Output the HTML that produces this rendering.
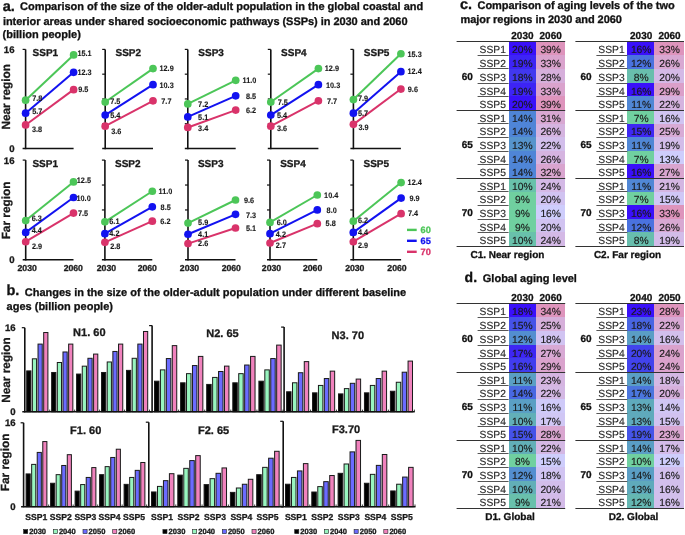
<!DOCTYPE html>
<html><head><meta charset="utf-8"><style>
html,body{margin:0;padding:0;background:#fff;}
svg{display:block;font-family:"Liberation Sans",sans-serif;filter:blur(0.35px);text-rendering:geometricPrecision;}
</style></head><body>
<svg width="685" height="535" viewBox="0 0 685 535">
<rect x="0" y="0" width="685" height="535" fill="#fff"/>
<text x="2.80" y="10.70" font-size="14.5" font-weight="bold" fill="#111" stroke="#111" stroke-width="0.3" text-anchor="start" >a.</text>
<text x="20.00" y="10.30" font-size="11" font-weight="bold" fill="#111" stroke="#111" stroke-width="0.3" text-anchor="start"  textLength="403.2" lengthAdjust="spacing">Comparison of the size of the older-adult population in the global coastal and</text>
<text x="2.90" y="25.00" font-size="11" font-weight="bold" fill="#111" stroke="#111" stroke-width="0.3" text-anchor="start"  textLength="404.6" lengthAdjust="spacing">interior areas under shared socioeconomic pathways (SSPs) in 2030 and 2060</text>
<text x="2.60" y="37.90" font-size="11" font-weight="bold" fill="#111" stroke="#111" stroke-width="0.3" text-anchor="start" >(billion people)</text>
<text x="6.50" y="295.40" font-size="14.5" font-weight="bold" fill="#111" stroke="#111" stroke-width="0.3" text-anchor="start" >b.</text>
<text x="24.80" y="295.60" font-size="11" font-weight="bold" fill="#111" stroke="#111" stroke-width="0.3" text-anchor="start"  textLength="381.4" lengthAdjust="spacing">Changes in the size of the older-adult population under different baseline</text>
<text x="6.60" y="310.00" font-size="11" font-weight="bold" fill="#111" stroke="#111" stroke-width="0.3" text-anchor="start" >ages (billion people)</text>
<text x="460.00" y="9.20" font-size="14.5" font-weight="bold" fill="#111" stroke="#111" stroke-width="0.3" text-anchor="start" >c.</text>
<text x="477.50" y="9.30" font-size="11" font-weight="bold" fill="#111" stroke="#111" stroke-width="0.3" text-anchor="start"  textLength="197.2" lengthAdjust="spacing">Comparison of aging levels of the two</text>
<text x="460.50" y="23.00" font-size="11" font-weight="bold" fill="#111" stroke="#111" stroke-width="0.3" text-anchor="start"  textLength="161.4" lengthAdjust="spacing">major regions in 2030 and 2060</text>
<text x="464.60" y="282.40" font-size="14" font-weight="bold" fill="#111" stroke="#111" stroke-width="0.3" text-anchor="start" >d.</text>
<text x="482.80" y="282.00" font-size="11" font-weight="bold" fill="#111" stroke="#111" stroke-width="0.3" text-anchor="start" >Global aging level</text>
<line x1="25.60" y1="49.40" x2="25.60" y2="149.20" stroke="#111" stroke-width="1.6" />
<line x1="22.60" y1="49.40" x2="25.60" y2="49.40" stroke="#111" stroke-width="1.2" />
<line x1="22.60" y1="148.50" x2="73.60" y2="148.50" stroke="#111" stroke-width="1.6" />
<text x="32.60" y="55.90" font-size="10" font-weight="bold" fill="#1a1a1a" stroke="#1a1a1a" stroke-width="0.3" text-anchor="start" >SSP1</text>
<line x1="25.60" y1="100.19" x2="73.60" y2="54.97" stroke="#4cc658" stroke-width="2.0" />
<line x1="25.60" y1="113.20" x2="73.60" y2="72.32" stroke="#1212f0" stroke-width="2.0" />
<line x1="25.60" y1="124.96" x2="73.60" y2="89.66" stroke="#d9336a" stroke-width="2.0" />
<circle cx="25.60" cy="100.19" r="3.85" fill="#4cc658"/>
<circle cx="73.60" cy="54.97" r="3.85" fill="#4cc658"/>
<circle cx="25.60" cy="113.20" r="3.85" fill="#1212f0"/>
<circle cx="73.60" cy="72.32" r="3.85" fill="#1212f0"/>
<circle cx="25.60" cy="124.96" r="3.85" fill="#d9336a"/>
<circle cx="73.60" cy="89.66" r="3.85" fill="#d9336a"/>
<text x="32.20" y="100.50" font-size="7.9" font-weight="bold" fill="#1a1a1a" stroke="#1a1a1a" stroke-width="0.12" text-anchor="start" textLength="10.15" lengthAdjust="spacingAndGlyphs">7.8</text>
<text x="32.20" y="113.90" font-size="7.9" font-weight="bold" fill="#1a1a1a" stroke="#1a1a1a" stroke-width="0.12" text-anchor="start" textLength="10.15" lengthAdjust="spacingAndGlyphs">5.7</text>
<text x="32.00" y="132.10" font-size="7.9" font-weight="bold" fill="#1a1a1a" stroke="#1a1a1a" stroke-width="0.12" text-anchor="start" textLength="10.15" lengthAdjust="spacingAndGlyphs">3.8</text>
<text x="77.40" y="55.90" font-size="7.9" font-weight="bold" fill="#1a1a1a" stroke="#1a1a1a" stroke-width="0.12" text-anchor="start" textLength="14.21" lengthAdjust="spacingAndGlyphs">15.1</text>
<text x="77.40" y="75.00" font-size="7.9" font-weight="bold" fill="#1a1a1a" stroke="#1a1a1a" stroke-width="0.12" text-anchor="start" textLength="14.21" lengthAdjust="spacingAndGlyphs">12.3</text>
<text x="78.20" y="92.30" font-size="7.9" font-weight="bold" fill="#1a1a1a" stroke="#1a1a1a" stroke-width="0.12" text-anchor="start" textLength="10.15" lengthAdjust="spacingAndGlyphs">9.5</text>
<line x1="105.20" y1="49.40" x2="105.20" y2="149.20" stroke="#111" stroke-width="1.6" />
<line x1="102.20" y1="49.40" x2="105.20" y2="49.40" stroke="#111" stroke-width="1.2" />
<line x1="102.20" y1="74.18" x2="105.20" y2="74.18" stroke="#111" stroke-width="1.2" />
<line x1="102.20" y1="98.95" x2="105.20" y2="98.95" stroke="#111" stroke-width="1.2" />
<line x1="102.20" y1="123.72" x2="105.20" y2="123.72" stroke="#111" stroke-width="1.2" />
<line x1="102.20" y1="148.50" x2="153.00" y2="148.50" stroke="#111" stroke-width="1.6" />
<text x="115.50" y="55.90" font-size="10" font-weight="bold" fill="#1a1a1a" stroke="#1a1a1a" stroke-width="0.3" text-anchor="start" >SSP2</text>
<line x1="105.20" y1="102.05" x2="153.00" y2="68.60" stroke="#4cc658" stroke-width="2.0" />
<line x1="105.20" y1="115.05" x2="153.00" y2="84.70" stroke="#1212f0" stroke-width="2.0" />
<line x1="105.20" y1="126.20" x2="153.00" y2="100.81" stroke="#d9336a" stroke-width="2.0" />
<circle cx="105.20" cy="102.05" r="3.85" fill="#4cc658"/>
<circle cx="153.00" cy="68.60" r="3.85" fill="#4cc658"/>
<circle cx="105.20" cy="115.05" r="3.85" fill="#1212f0"/>
<circle cx="153.00" cy="84.70" r="3.85" fill="#1212f0"/>
<circle cx="105.20" cy="126.20" r="3.85" fill="#d9336a"/>
<circle cx="153.00" cy="100.81" r="3.85" fill="#d9336a"/>
<text x="110.20" y="103.70" font-size="7.9" font-weight="bold" fill="#1a1a1a" stroke="#1a1a1a" stroke-width="0.12" text-anchor="start" textLength="10.15" lengthAdjust="spacingAndGlyphs">7.5</text>
<text x="110.20" y="117.60" font-size="7.9" font-weight="bold" fill="#1a1a1a" stroke="#1a1a1a" stroke-width="0.12" text-anchor="start" textLength="10.15" lengthAdjust="spacingAndGlyphs">5.4</text>
<text x="111.20" y="133.60" font-size="7.9" font-weight="bold" fill="#1a1a1a" stroke="#1a1a1a" stroke-width="0.12" text-anchor="start" textLength="10.15" lengthAdjust="spacingAndGlyphs">3.6</text>
<text x="159.50" y="71.20" font-size="7.9" font-weight="bold" fill="#1a1a1a" stroke="#1a1a1a" stroke-width="0.12" text-anchor="start" textLength="14.21" lengthAdjust="spacingAndGlyphs">12.9</text>
<text x="159.50" y="87.70" font-size="7.9" font-weight="bold" fill="#1a1a1a" stroke="#1a1a1a" stroke-width="0.12" text-anchor="start" textLength="14.21" lengthAdjust="spacingAndGlyphs">10.3</text>
<text x="161.30" y="103.80" font-size="7.9" font-weight="bold" fill="#1a1a1a" stroke="#1a1a1a" stroke-width="0.12" text-anchor="start" textLength="10.15" lengthAdjust="spacingAndGlyphs">7.7</text>
<line x1="187.80" y1="49.40" x2="187.80" y2="149.20" stroke="#111" stroke-width="1.6" />
<line x1="184.80" y1="49.40" x2="187.80" y2="49.40" stroke="#111" stroke-width="1.2" />
<line x1="184.80" y1="74.18" x2="187.80" y2="74.18" stroke="#111" stroke-width="1.2" />
<line x1="184.80" y1="98.95" x2="187.80" y2="98.95" stroke="#111" stroke-width="1.2" />
<line x1="184.80" y1="123.72" x2="187.80" y2="123.72" stroke="#111" stroke-width="1.2" />
<line x1="184.80" y1="148.50" x2="235.70" y2="148.50" stroke="#111" stroke-width="1.6" />
<text x="198.30" y="55.90" font-size="10" font-weight="bold" fill="#1a1a1a" stroke="#1a1a1a" stroke-width="0.3" text-anchor="start" >SSP3</text>
<line x1="187.80" y1="103.91" x2="235.70" y2="80.37" stroke="#4cc658" stroke-width="2.0" />
<line x1="187.80" y1="116.91" x2="235.70" y2="95.85" stroke="#1212f0" stroke-width="2.0" />
<line x1="187.80" y1="127.44" x2="235.70" y2="110.10" stroke="#d9336a" stroke-width="2.0" />
<circle cx="187.80" cy="103.91" r="3.85" fill="#4cc658"/>
<circle cx="235.70" cy="80.37" r="3.85" fill="#4cc658"/>
<circle cx="187.80" cy="116.91" r="3.85" fill="#1212f0"/>
<circle cx="235.70" cy="95.85" r="3.85" fill="#1212f0"/>
<circle cx="187.80" cy="127.44" r="3.85" fill="#d9336a"/>
<circle cx="235.70" cy="110.10" r="3.85" fill="#d9336a"/>
<text x="198.10" y="107.10" font-size="7.9" font-weight="bold" fill="#1a1a1a" stroke="#1a1a1a" stroke-width="0.12" text-anchor="start" textLength="10.15" lengthAdjust="spacingAndGlyphs">7.2</text>
<text x="198.10" y="119.80" font-size="7.9" font-weight="bold" fill="#1a1a1a" stroke="#1a1a1a" stroke-width="0.12" text-anchor="start" textLength="10.15" lengthAdjust="spacingAndGlyphs">5.1</text>
<text x="198.10" y="130.60" font-size="7.9" font-weight="bold" fill="#1a1a1a" stroke="#1a1a1a" stroke-width="0.12" text-anchor="start" textLength="10.15" lengthAdjust="spacingAndGlyphs">3.4</text>
<text x="242.60" y="83.20" font-size="7.9" font-weight="bold" fill="#1a1a1a" stroke="#1a1a1a" stroke-width="0.12" text-anchor="start" textLength="13.80" lengthAdjust="spacingAndGlyphs">11.0</text>
<text x="246.00" y="98.60" font-size="7.9" font-weight="bold" fill="#1a1a1a" stroke="#1a1a1a" stroke-width="0.12" text-anchor="start" textLength="10.15" lengthAdjust="spacingAndGlyphs">8.5</text>
<text x="246.00" y="113.10" font-size="7.9" font-weight="bold" fill="#1a1a1a" stroke="#1a1a1a" stroke-width="0.12" text-anchor="start" textLength="10.15" lengthAdjust="spacingAndGlyphs">6.2</text>
<line x1="270.80" y1="49.40" x2="270.80" y2="149.20" stroke="#111" stroke-width="1.6" />
<line x1="267.80" y1="49.40" x2="270.80" y2="49.40" stroke="#111" stroke-width="1.2" />
<line x1="267.80" y1="74.18" x2="270.80" y2="74.18" stroke="#111" stroke-width="1.2" />
<line x1="267.80" y1="98.95" x2="270.80" y2="98.95" stroke="#111" stroke-width="1.2" />
<line x1="267.80" y1="123.72" x2="270.80" y2="123.72" stroke="#111" stroke-width="1.2" />
<line x1="267.80" y1="148.50" x2="318.40" y2="148.50" stroke="#111" stroke-width="1.6" />
<text x="281.10" y="55.90" font-size="10" font-weight="bold" fill="#1a1a1a" stroke="#1a1a1a" stroke-width="0.3" text-anchor="start" >SSP4</text>
<line x1="270.80" y1="102.05" x2="318.40" y2="68.60" stroke="#4cc658" stroke-width="2.0" />
<line x1="270.80" y1="115.05" x2="318.40" y2="84.70" stroke="#1212f0" stroke-width="2.0" />
<line x1="270.80" y1="126.20" x2="318.40" y2="100.81" stroke="#d9336a" stroke-width="2.0" />
<circle cx="270.80" cy="102.05" r="3.85" fill="#4cc658"/>
<circle cx="318.40" cy="68.60" r="3.85" fill="#4cc658"/>
<circle cx="270.80" cy="115.05" r="3.85" fill="#1212f0"/>
<circle cx="318.40" cy="84.70" r="3.85" fill="#1212f0"/>
<circle cx="270.80" cy="126.20" r="3.85" fill="#d9336a"/>
<circle cx="318.40" cy="100.81" r="3.85" fill="#d9336a"/>
<text x="277.70" y="104.60" font-size="7.9" font-weight="bold" fill="#1a1a1a" stroke="#1a1a1a" stroke-width="0.12" text-anchor="start" textLength="10.15" lengthAdjust="spacingAndGlyphs">7.5</text>
<text x="277.00" y="117.60" font-size="7.9" font-weight="bold" fill="#1a1a1a" stroke="#1a1a1a" stroke-width="0.12" text-anchor="start" textLength="10.15" lengthAdjust="spacingAndGlyphs">5.4</text>
<text x="277.00" y="131.00" font-size="7.9" font-weight="bold" fill="#1a1a1a" stroke="#1a1a1a" stroke-width="0.12" text-anchor="start" textLength="10.15" lengthAdjust="spacingAndGlyphs">3.6</text>
<text x="324.80" y="71.20" font-size="7.9" font-weight="bold" fill="#1a1a1a" stroke="#1a1a1a" stroke-width="0.12" text-anchor="start" textLength="14.21" lengthAdjust="spacingAndGlyphs">12.9</text>
<text x="326.00" y="87.70" font-size="7.9" font-weight="bold" fill="#1a1a1a" stroke="#1a1a1a" stroke-width="0.12" text-anchor="start" textLength="14.21" lengthAdjust="spacingAndGlyphs">10.3</text>
<text x="327.00" y="103.70" font-size="7.9" font-weight="bold" fill="#1a1a1a" stroke="#1a1a1a" stroke-width="0.12" text-anchor="start" textLength="10.15" lengthAdjust="spacingAndGlyphs">7.7</text>
<line x1="353.40" y1="49.40" x2="353.40" y2="149.20" stroke="#111" stroke-width="1.6" />
<line x1="350.40" y1="49.40" x2="353.40" y2="49.40" stroke="#111" stroke-width="1.2" />
<line x1="350.40" y1="74.18" x2="353.40" y2="74.18" stroke="#111" stroke-width="1.2" />
<line x1="350.40" y1="98.95" x2="353.40" y2="98.95" stroke="#111" stroke-width="1.2" />
<line x1="350.40" y1="123.72" x2="353.40" y2="123.72" stroke="#111" stroke-width="1.2" />
<line x1="350.40" y1="148.50" x2="400.90" y2="148.50" stroke="#111" stroke-width="1.6" />
<text x="363.80" y="55.90" font-size="10" font-weight="bold" fill="#1a1a1a" stroke="#1a1a1a" stroke-width="0.3" text-anchor="start" >SSP5</text>
<line x1="353.40" y1="99.57" x2="400.90" y2="53.74" stroke="#4cc658" stroke-width="2.0" />
<line x1="353.40" y1="113.20" x2="400.90" y2="71.70" stroke="#1212f0" stroke-width="2.0" />
<line x1="353.40" y1="124.34" x2="400.90" y2="89.04" stroke="#d9336a" stroke-width="2.0" />
<circle cx="353.40" cy="99.57" r="3.85" fill="#4cc658"/>
<circle cx="400.90" cy="53.74" r="3.85" fill="#4cc658"/>
<circle cx="353.40" cy="113.20" r="3.85" fill="#1212f0"/>
<circle cx="400.90" cy="71.70" r="3.85" fill="#1212f0"/>
<circle cx="353.40" cy="124.34" r="3.85" fill="#d9336a"/>
<circle cx="400.90" cy="89.04" r="3.85" fill="#d9336a"/>
<text x="357.90" y="101.30" font-size="7.9" font-weight="bold" fill="#1a1a1a" stroke="#1a1a1a" stroke-width="0.12" text-anchor="start" textLength="10.15" lengthAdjust="spacingAndGlyphs">7.9</text>
<text x="357.90" y="115.50" font-size="7.9" font-weight="bold" fill="#1a1a1a" stroke="#1a1a1a" stroke-width="0.12" text-anchor="start" textLength="10.15" lengthAdjust="spacingAndGlyphs">5.7</text>
<text x="358.40" y="130.30" font-size="7.9" font-weight="bold" fill="#1a1a1a" stroke="#1a1a1a" stroke-width="0.12" text-anchor="start" textLength="10.15" lengthAdjust="spacingAndGlyphs">3.9</text>
<text x="407.50" y="57.10" font-size="7.9" font-weight="bold" fill="#1a1a1a" stroke="#1a1a1a" stroke-width="0.12" text-anchor="start" textLength="14.21" lengthAdjust="spacingAndGlyphs">15.3</text>
<text x="407.50" y="74.40" font-size="7.9" font-weight="bold" fill="#1a1a1a" stroke="#1a1a1a" stroke-width="0.12" text-anchor="start" textLength="14.21" lengthAdjust="spacingAndGlyphs">12.4</text>
<text x="407.80" y="91.70" font-size="7.9" font-weight="bold" fill="#1a1a1a" stroke="#1a1a1a" stroke-width="0.12" text-anchor="start" textLength="10.15" lengthAdjust="spacingAndGlyphs">9.6</text>
<text x="14.50" y="52.80" font-size="9.6" font-weight="bold" fill="#1a1a1a" stroke="#1a1a1a" stroke-width="0.3" text-anchor="end" >16</text>
<text x="14.50" y="151.90" font-size="9.6" font-weight="bold" fill="#1a1a1a" stroke="#1a1a1a" stroke-width="0.3" text-anchor="end" >0</text>
<line x1="25.70" y1="160.10" x2="25.70" y2="260.50" stroke="#111" stroke-width="1.6" />
<line x1="22.70" y1="160.10" x2="25.70" y2="160.10" stroke="#111" stroke-width="1.2" />
<line x1="22.70" y1="259.80" x2="73.50" y2="259.80" stroke="#111" stroke-width="1.6" />
<text x="32.40" y="166.70" font-size="10" font-weight="bold" fill="#1a1a1a" stroke="#1a1a1a" stroke-width="0.3" text-anchor="start" >SSP1</text>
<line x1="25.70" y1="220.54" x2="73.50" y2="181.91" stroke="#4cc658" stroke-width="2.0" />
<line x1="25.70" y1="232.38" x2="73.50" y2="197.49" stroke="#1212f0" stroke-width="2.0" />
<line x1="25.70" y1="241.73" x2="73.50" y2="213.07" stroke="#d9336a" stroke-width="2.0" />
<circle cx="25.70" cy="220.54" r="3.85" fill="#4cc658"/>
<circle cx="73.50" cy="181.91" r="3.85" fill="#4cc658"/>
<circle cx="25.70" cy="232.38" r="3.85" fill="#1212f0"/>
<circle cx="73.50" cy="197.49" r="3.85" fill="#1212f0"/>
<circle cx="25.70" cy="241.73" r="3.85" fill="#d9336a"/>
<circle cx="73.50" cy="213.07" r="3.85" fill="#d9336a"/>
<text x="31.70" y="221.10" font-size="7.9" font-weight="bold" fill="#1a1a1a" stroke="#1a1a1a" stroke-width="0.12" text-anchor="start" textLength="10.15" lengthAdjust="spacingAndGlyphs">6.3</text>
<text x="31.70" y="232.50" font-size="7.9" font-weight="bold" fill="#1a1a1a" stroke="#1a1a1a" stroke-width="0.12" text-anchor="start" textLength="10.15" lengthAdjust="spacingAndGlyphs">4.4</text>
<text x="32.00" y="248.50" font-size="7.9" font-weight="bold" fill="#1a1a1a" stroke="#1a1a1a" stroke-width="0.12" text-anchor="start" textLength="10.15" lengthAdjust="spacingAndGlyphs">2.9</text>
<text x="76.80" y="182.70" font-size="7.9" font-weight="bold" fill="#1a1a1a" stroke="#1a1a1a" stroke-width="0.12" text-anchor="start" textLength="14.21" lengthAdjust="spacingAndGlyphs">12.5</text>
<text x="76.50" y="200.70" font-size="7.9" font-weight="bold" fill="#1a1a1a" stroke="#1a1a1a" stroke-width="0.12" text-anchor="start" textLength="14.21" lengthAdjust="spacingAndGlyphs">10.0</text>
<text x="78.00" y="215.60" font-size="7.9" font-weight="bold" fill="#1a1a1a" stroke="#1a1a1a" stroke-width="0.12" text-anchor="start" textLength="10.15" lengthAdjust="spacingAndGlyphs">7.5</text>
<text x="27.20" y="271.00" font-size="8.7" font-weight="bold" fill="#1a1a1a" stroke="#1a1a1a" stroke-width="0.3" text-anchor="middle" >2030</text>
<line x1="104.90" y1="160.10" x2="104.90" y2="260.50" stroke="#111" stroke-width="1.6" />
<line x1="101.90" y1="160.10" x2="104.90" y2="160.10" stroke="#111" stroke-width="1.2" />
<line x1="101.90" y1="185.03" x2="104.90" y2="185.03" stroke="#111" stroke-width="1.2" />
<line x1="101.90" y1="209.95" x2="104.90" y2="209.95" stroke="#111" stroke-width="1.2" />
<line x1="101.90" y1="234.88" x2="104.90" y2="234.88" stroke="#111" stroke-width="1.2" />
<line x1="101.90" y1="259.80" x2="152.30" y2="259.80" stroke="#111" stroke-width="1.6" />
<text x="115.00" y="166.70" font-size="10" font-weight="bold" fill="#1a1a1a" stroke="#1a1a1a" stroke-width="0.3" text-anchor="start" >SSP2</text>
<line x1="104.90" y1="221.79" x2="152.30" y2="191.26" stroke="#4cc658" stroke-width="2.0" />
<line x1="104.90" y1="233.63" x2="152.30" y2="206.83" stroke="#1212f0" stroke-width="2.0" />
<line x1="104.90" y1="242.35" x2="152.30" y2="221.17" stroke="#d9336a" stroke-width="2.0" />
<circle cx="104.90" cy="221.79" r="3.85" fill="#4cc658"/>
<circle cx="152.30" cy="191.26" r="3.85" fill="#4cc658"/>
<circle cx="104.90" cy="233.63" r="3.85" fill="#1212f0"/>
<circle cx="152.30" cy="206.83" r="3.85" fill="#1212f0"/>
<circle cx="104.90" cy="242.35" r="3.85" fill="#d9336a"/>
<circle cx="152.30" cy="221.17" r="3.85" fill="#d9336a"/>
<text x="109.30" y="223.80" font-size="7.9" font-weight="bold" fill="#1a1a1a" stroke="#1a1a1a" stroke-width="0.12" text-anchor="start" textLength="10.15" lengthAdjust="spacingAndGlyphs">6.1</text>
<text x="109.30" y="235.80" font-size="7.9" font-weight="bold" fill="#1a1a1a" stroke="#1a1a1a" stroke-width="0.12" text-anchor="start" textLength="10.15" lengthAdjust="spacingAndGlyphs">4.2</text>
<text x="110.20" y="249.30" font-size="7.9" font-weight="bold" fill="#1a1a1a" stroke="#1a1a1a" stroke-width="0.12" text-anchor="start" textLength="10.15" lengthAdjust="spacingAndGlyphs">2.8</text>
<text x="158.60" y="194.40" font-size="7.9" font-weight="bold" fill="#1a1a1a" stroke="#1a1a1a" stroke-width="0.12" text-anchor="start" textLength="13.80" lengthAdjust="spacingAndGlyphs">11.0</text>
<text x="160.60" y="209.60" font-size="7.9" font-weight="bold" fill="#1a1a1a" stroke="#1a1a1a" stroke-width="0.12" text-anchor="start" textLength="10.15" lengthAdjust="spacingAndGlyphs">8.5</text>
<text x="160.30" y="224.10" font-size="7.9" font-weight="bold" fill="#1a1a1a" stroke="#1a1a1a" stroke-width="0.12" text-anchor="start" textLength="10.15" lengthAdjust="spacingAndGlyphs">6.2</text>
<text x="106.40" y="271.00" font-size="8.7" font-weight="bold" fill="#1a1a1a" stroke="#1a1a1a" stroke-width="0.3" text-anchor="middle" >2030</text>
<line x1="188.00" y1="160.10" x2="188.00" y2="260.50" stroke="#111" stroke-width="1.6" />
<line x1="185.00" y1="160.10" x2="188.00" y2="160.10" stroke="#111" stroke-width="1.2" />
<line x1="185.00" y1="185.03" x2="188.00" y2="185.03" stroke="#111" stroke-width="1.2" />
<line x1="185.00" y1="209.95" x2="188.00" y2="209.95" stroke="#111" stroke-width="1.2" />
<line x1="185.00" y1="234.88" x2="188.00" y2="234.88" stroke="#111" stroke-width="1.2" />
<line x1="185.00" y1="259.80" x2="235.50" y2="259.80" stroke="#111" stroke-width="1.6" />
<text x="197.90" y="166.70" font-size="10" font-weight="bold" fill="#1a1a1a" stroke="#1a1a1a" stroke-width="0.3" text-anchor="start" >SSP3</text>
<line x1="188.00" y1="223.04" x2="235.50" y2="199.98" stroke="#4cc658" stroke-width="2.0" />
<line x1="188.00" y1="234.25" x2="235.50" y2="214.31" stroke="#1212f0" stroke-width="2.0" />
<line x1="188.00" y1="243.60" x2="235.50" y2="228.02" stroke="#d9336a" stroke-width="2.0" />
<circle cx="188.00" cy="223.04" r="3.85" fill="#4cc658"/>
<circle cx="235.50" cy="199.98" r="3.85" fill="#4cc658"/>
<circle cx="188.00" cy="234.25" r="3.85" fill="#1212f0"/>
<circle cx="235.50" cy="214.31" r="3.85" fill="#1212f0"/>
<circle cx="188.00" cy="243.60" r="3.85" fill="#d9336a"/>
<circle cx="235.50" cy="228.02" r="3.85" fill="#d9336a"/>
<text x="198.10" y="225.30" font-size="7.9" font-weight="bold" fill="#1a1a1a" stroke="#1a1a1a" stroke-width="0.12" text-anchor="start" textLength="10.15" lengthAdjust="spacingAndGlyphs">5.9</text>
<text x="198.10" y="236.50" font-size="7.9" font-weight="bold" fill="#1a1a1a" stroke="#1a1a1a" stroke-width="0.12" text-anchor="start" textLength="10.15" lengthAdjust="spacingAndGlyphs">4.1</text>
<text x="198.10" y="246.00" font-size="7.9" font-weight="bold" fill="#1a1a1a" stroke="#1a1a1a" stroke-width="0.12" text-anchor="start" textLength="10.15" lengthAdjust="spacingAndGlyphs">2.6</text>
<text x="244.00" y="202.90" font-size="7.9" font-weight="bold" fill="#1a1a1a" stroke="#1a1a1a" stroke-width="0.12" text-anchor="start" textLength="10.15" lengthAdjust="spacingAndGlyphs">9.6</text>
<text x="246.00" y="217.60" font-size="7.9" font-weight="bold" fill="#1a1a1a" stroke="#1a1a1a" stroke-width="0.12" text-anchor="start" textLength="10.15" lengthAdjust="spacingAndGlyphs">7.3</text>
<text x="246.00" y="231.00" font-size="7.9" font-weight="bold" fill="#1a1a1a" stroke="#1a1a1a" stroke-width="0.12" text-anchor="start" textLength="10.15" lengthAdjust="spacingAndGlyphs">5.1</text>
<text x="189.50" y="271.00" font-size="8.7" font-weight="bold" fill="#1a1a1a" stroke="#1a1a1a" stroke-width="0.3" text-anchor="middle" >2030</text>
<line x1="270.00" y1="160.10" x2="270.00" y2="260.50" stroke="#111" stroke-width="1.6" />
<line x1="267.00" y1="160.10" x2="270.00" y2="160.10" stroke="#111" stroke-width="1.2" />
<line x1="267.00" y1="185.03" x2="270.00" y2="185.03" stroke="#111" stroke-width="1.2" />
<line x1="267.00" y1="209.95" x2="270.00" y2="209.95" stroke="#111" stroke-width="1.2" />
<line x1="267.00" y1="234.88" x2="270.00" y2="234.88" stroke="#111" stroke-width="1.2" />
<line x1="267.00" y1="259.80" x2="317.30" y2="259.80" stroke="#111" stroke-width="1.6" />
<text x="280.20" y="166.70" font-size="10" font-weight="bold" fill="#1a1a1a" stroke="#1a1a1a" stroke-width="0.3" text-anchor="start" >SSP4</text>
<line x1="270.00" y1="222.41" x2="317.30" y2="195.00" stroke="#4cc658" stroke-width="2.0" />
<line x1="270.00" y1="233.63" x2="317.30" y2="209.95" stroke="#1212f0" stroke-width="2.0" />
<line x1="270.00" y1="242.98" x2="317.30" y2="223.66" stroke="#d9336a" stroke-width="2.0" />
<circle cx="270.00" cy="222.41" r="3.85" fill="#4cc658"/>
<circle cx="317.30" cy="195.00" r="3.85" fill="#4cc658"/>
<circle cx="270.00" cy="233.63" r="3.85" fill="#1212f0"/>
<circle cx="317.30" cy="209.95" r="3.85" fill="#1212f0"/>
<circle cx="270.00" cy="242.98" r="3.85" fill="#d9336a"/>
<circle cx="317.30" cy="223.66" r="3.85" fill="#d9336a"/>
<text x="276.70" y="225.30" font-size="7.9" font-weight="bold" fill="#1a1a1a" stroke="#1a1a1a" stroke-width="0.12" text-anchor="start" textLength="10.15" lengthAdjust="spacingAndGlyphs">6.0</text>
<text x="275.80" y="236.50" font-size="7.9" font-weight="bold" fill="#1a1a1a" stroke="#1a1a1a" stroke-width="0.12" text-anchor="start" textLength="10.15" lengthAdjust="spacingAndGlyphs">4.2</text>
<text x="275.80" y="247.80" font-size="7.9" font-weight="bold" fill="#1a1a1a" stroke="#1a1a1a" stroke-width="0.12" text-anchor="start" textLength="10.15" lengthAdjust="spacingAndGlyphs">2.7</text>
<text x="324.10" y="198.10" font-size="7.9" font-weight="bold" fill="#1a1a1a" stroke="#1a1a1a" stroke-width="0.12" text-anchor="start" textLength="14.21" lengthAdjust="spacingAndGlyphs">10.4</text>
<text x="326.60" y="212.60" font-size="7.9" font-weight="bold" fill="#1a1a1a" stroke="#1a1a1a" stroke-width="0.12" text-anchor="start" textLength="10.15" lengthAdjust="spacingAndGlyphs">8.0</text>
<text x="325.60" y="226.10" font-size="7.9" font-weight="bold" fill="#1a1a1a" stroke="#1a1a1a" stroke-width="0.12" text-anchor="start" textLength="10.15" lengthAdjust="spacingAndGlyphs">5.8</text>
<text x="271.50" y="271.00" font-size="8.7" font-weight="bold" fill="#1a1a1a" stroke="#1a1a1a" stroke-width="0.3" text-anchor="middle" >2030</text>
<line x1="353.30" y1="160.10" x2="353.30" y2="260.50" stroke="#111" stroke-width="1.6" />
<line x1="350.30" y1="160.10" x2="353.30" y2="160.10" stroke="#111" stroke-width="1.2" />
<line x1="350.30" y1="185.03" x2="353.30" y2="185.03" stroke="#111" stroke-width="1.2" />
<line x1="350.30" y1="209.95" x2="353.30" y2="209.95" stroke="#111" stroke-width="1.2" />
<line x1="350.30" y1="234.88" x2="353.30" y2="234.88" stroke="#111" stroke-width="1.2" />
<line x1="350.30" y1="259.80" x2="401.10" y2="259.80" stroke="#111" stroke-width="1.6" />
<text x="363.50" y="166.70" font-size="10" font-weight="bold" fill="#1a1a1a" stroke="#1a1a1a" stroke-width="0.3" text-anchor="start" >SSP5</text>
<line x1="353.30" y1="221.17" x2="401.10" y2="182.53" stroke="#4cc658" stroke-width="2.0" />
<line x1="353.30" y1="232.38" x2="401.10" y2="198.11" stroke="#1212f0" stroke-width="2.0" />
<line x1="353.30" y1="241.73" x2="401.10" y2="213.69" stroke="#d9336a" stroke-width="2.0" />
<circle cx="353.30" cy="221.17" r="3.85" fill="#4cc658"/>
<circle cx="401.10" cy="182.53" r="3.85" fill="#4cc658"/>
<circle cx="353.30" cy="232.38" r="3.85" fill="#1212f0"/>
<circle cx="401.10" cy="198.11" r="3.85" fill="#1212f0"/>
<circle cx="353.30" cy="241.73" r="3.85" fill="#d9336a"/>
<circle cx="401.10" cy="213.69" r="3.85" fill="#d9336a"/>
<text x="357.90" y="222.60" font-size="7.9" font-weight="bold" fill="#1a1a1a" stroke="#1a1a1a" stroke-width="0.12" text-anchor="start" textLength="10.15" lengthAdjust="spacingAndGlyphs">6.2</text>
<text x="357.90" y="235.00" font-size="7.9" font-weight="bold" fill="#1a1a1a" stroke="#1a1a1a" stroke-width="0.12" text-anchor="start" textLength="10.15" lengthAdjust="spacingAndGlyphs">4.4</text>
<text x="357.90" y="247.50" font-size="7.9" font-weight="bold" fill="#1a1a1a" stroke="#1a1a1a" stroke-width="0.12" text-anchor="start" textLength="10.15" lengthAdjust="spacingAndGlyphs">2.9</text>
<text x="407.60" y="185.40" font-size="7.9" font-weight="bold" fill="#1a1a1a" stroke="#1a1a1a" stroke-width="0.12" text-anchor="start" textLength="14.21" lengthAdjust="spacingAndGlyphs">12.4</text>
<text x="409.50" y="201.40" font-size="7.9" font-weight="bold" fill="#1a1a1a" stroke="#1a1a1a" stroke-width="0.12" text-anchor="start" textLength="10.15" lengthAdjust="spacingAndGlyphs">9.9</text>
<text x="408.00" y="216.40" font-size="7.9" font-weight="bold" fill="#1a1a1a" stroke="#1a1a1a" stroke-width="0.12" text-anchor="start" textLength="10.15" lengthAdjust="spacingAndGlyphs">7.4</text>
<text x="354.80" y="271.00" font-size="8.7" font-weight="bold" fill="#1a1a1a" stroke="#1a1a1a" stroke-width="0.3" text-anchor="middle" >2030</text>
<text x="14.50" y="163.50" font-size="9.6" font-weight="bold" fill="#1a1a1a" stroke="#1a1a1a" stroke-width="0.3" text-anchor="end" >16</text>
<text x="14.50" y="263.20" font-size="9.6" font-weight="bold" fill="#1a1a1a" stroke="#1a1a1a" stroke-width="0.3" text-anchor="end" >0</text>
<text x="73.30" y="271.00" font-size="8.7" font-weight="bold" fill="#1a1a1a" stroke="#1a1a1a" stroke-width="0.3" text-anchor="middle" >2060</text>
<text x="147.30" y="271.00" font-size="8.7" font-weight="bold" fill="#1a1a1a" stroke="#1a1a1a" stroke-width="0.3" text-anchor="middle" >2060</text>
<text x="231.30" y="271.00" font-size="8.7" font-weight="bold" fill="#1a1a1a" stroke="#1a1a1a" stroke-width="0.3" text-anchor="middle" >2060</text>
<text x="312.60" y="271.00" font-size="8.7" font-weight="bold" fill="#1a1a1a" stroke="#1a1a1a" stroke-width="0.3" text-anchor="middle" >2060</text>
<text x="397.00" y="271.00" font-size="8.7" font-weight="bold" fill="#1a1a1a" stroke="#1a1a1a" stroke-width="0.3" text-anchor="middle" >2060</text>
<text x="9.70" y="96.80" font-size="11.8" font-weight="bold" fill="#1a1a1a" stroke="#1a1a1a" stroke-width="0.3" text-anchor="middle" transform="rotate(-90 9.7 96.8)">Near region</text>
<text x="9.70" y="210.50" font-size="11.8" font-weight="bold" fill="#1a1a1a" stroke="#1a1a1a" stroke-width="0.3" text-anchor="middle" transform="rotate(-90 9.7 210.5)">Far region</text>
<line x1="407.00" y1="229.90" x2="416.70" y2="229.90" stroke="#4cc658" stroke-width="2.4" />
<text x="420.60" y="233.30" font-size="9.2" font-weight="bold" fill="#4cc658" stroke="#4cc658" stroke-width="0.3" text-anchor="start" >60</text>
<line x1="407.00" y1="240.80" x2="416.70" y2="240.80" stroke="#1212f0" stroke-width="2.4" />
<text x="420.60" y="244.20" font-size="9.2" font-weight="bold" fill="#1212f0" stroke="#1212f0" stroke-width="0.3" text-anchor="start" >65</text>
<line x1="407.00" y1="251.80" x2="416.70" y2="251.80" stroke="#d9336a" stroke-width="2.4" />
<text x="420.60" y="255.20" font-size="9.2" font-weight="bold" fill="#d9336a" stroke="#d9336a" stroke-width="0.3" text-anchor="start" >70</text>
<rect x="26.70" y="370.90" width="4.21" height="40.90" fill="#000" stroke="#1a1a1a" stroke-width="1.0" />
<rect x="32.36" y="358.81" width="4.21" height="52.99" fill="#98f5bf" stroke="#1a1a1a" stroke-width="1.0" />
<rect x="38.03" y="344.09" width="4.21" height="67.71" fill="#6b6bff" stroke="#1a1a1a" stroke-width="1.0" />
<rect x="43.69" y="332.53" width="4.21" height="79.27" fill="#f082bd" stroke="#1a1a1a" stroke-width="1.0" />
<line x1="49.70" y1="409.60" x2="49.70" y2="411.80" stroke="#222" stroke-width="0.9" />
<rect x="51.65" y="372.48" width="4.21" height="39.32" fill="#000" stroke="#1a1a1a" stroke-width="1.0" />
<rect x="57.31" y="362.49" width="4.21" height="49.31" fill="#98f5bf" stroke="#1a1a1a" stroke-width="1.0" />
<rect x="62.98" y="351.98" width="4.21" height="59.82" fill="#6b6bff" stroke="#1a1a1a" stroke-width="1.0" />
<rect x="68.64" y="344.09" width="4.21" height="67.71" fill="#f082bd" stroke="#1a1a1a" stroke-width="1.0" />
<line x1="74.65" y1="409.60" x2="74.65" y2="411.80" stroke="#222" stroke-width="0.9" />
<rect x="76.60" y="374.06" width="4.21" height="37.75" fill="#000" stroke="#1a1a1a" stroke-width="1.0" />
<rect x="82.26" y="366.17" width="4.21" height="45.63" fill="#98f5bf" stroke="#1a1a1a" stroke-width="1.0" />
<rect x="87.93" y="358.29" width="4.21" height="53.51" fill="#6b6bff" stroke="#1a1a1a" stroke-width="1.0" />
<rect x="93.59" y="354.08" width="4.21" height="57.72" fill="#f082bd" stroke="#1a1a1a" stroke-width="1.0" />
<line x1="99.60" y1="409.60" x2="99.60" y2="411.80" stroke="#222" stroke-width="0.9" />
<rect x="101.55" y="372.48" width="4.21" height="39.32" fill="#000" stroke="#1a1a1a" stroke-width="1.0" />
<rect x="107.21" y="361.97" width="4.21" height="49.83" fill="#98f5bf" stroke="#1a1a1a" stroke-width="1.0" />
<rect x="112.88" y="351.45" width="4.21" height="60.35" fill="#6b6bff" stroke="#1a1a1a" stroke-width="1.0" />
<rect x="118.54" y="344.09" width="4.21" height="67.71" fill="#f082bd" stroke="#1a1a1a" stroke-width="1.0" />
<line x1="124.55" y1="409.60" x2="124.55" y2="411.80" stroke="#222" stroke-width="0.9" />
<rect x="126.50" y="370.38" width="4.21" height="41.42" fill="#000" stroke="#1a1a1a" stroke-width="1.0" />
<rect x="132.16" y="358.29" width="4.21" height="53.51" fill="#98f5bf" stroke="#1a1a1a" stroke-width="1.0" />
<rect x="137.83" y="344.09" width="4.21" height="67.71" fill="#6b6bff" stroke="#1a1a1a" stroke-width="1.0" />
<rect x="143.49" y="331.48" width="4.21" height="80.32" fill="#f082bd" stroke="#1a1a1a" stroke-width="1.0" />
<line x1="149.50" y1="409.60" x2="149.50" y2="411.80" stroke="#222" stroke-width="0.9" />
<line x1="24.80" y1="327.70" x2="24.80" y2="412.40" stroke="#111" stroke-width="1.6" />
<line x1="21.80" y1="327.70" x2="24.80" y2="327.70" stroke="#111" stroke-width="1.2" />
<line x1="22.30" y1="411.80" x2="151.60" y2="411.80" stroke="#111" stroke-width="1.5" />
<text x="73.10" y="336.40" font-size="11" font-weight="bold" fill="#1a1a1a" stroke="#1a1a1a" stroke-width="0.3" text-anchor="start" >N1. 60</text>
<rect x="154.50" y="381.19" width="4.47" height="30.61" fill="#000" stroke="#1a1a1a" stroke-width="1.0" />
<rect x="160.42" y="369.88" width="4.47" height="41.92" fill="#98f5bf" stroke="#1a1a1a" stroke-width="1.0" />
<rect x="166.35" y="358.56" width="4.47" height="53.24" fill="#6b6bff" stroke="#1a1a1a" stroke-width="1.0" />
<rect x="172.27" y="345.63" width="4.47" height="66.17" fill="#f082bd" stroke="#1a1a1a" stroke-width="1.0" />
<line x1="178.60" y1="409.60" x2="178.60" y2="411.80" stroke="#222" stroke-width="0.9" />
<rect x="180.60" y="382.81" width="4.47" height="28.99" fill="#000" stroke="#1a1a1a" stroke-width="1.0" />
<rect x="186.52" y="373.65" width="4.47" height="38.15" fill="#98f5bf" stroke="#1a1a1a" stroke-width="1.0" />
<rect x="192.45" y="365.57" width="4.47" height="46.23" fill="#6b6bff" stroke="#1a1a1a" stroke-width="1.0" />
<rect x="198.37" y="356.41" width="4.47" height="55.39" fill="#f082bd" stroke="#1a1a1a" stroke-width="1.0" />
<line x1="204.70" y1="409.60" x2="204.70" y2="411.80" stroke="#222" stroke-width="0.9" />
<rect x="206.70" y="384.42" width="4.47" height="27.38" fill="#000" stroke="#1a1a1a" stroke-width="1.0" />
<rect x="212.62" y="377.42" width="4.47" height="34.38" fill="#98f5bf" stroke="#1a1a1a" stroke-width="1.0" />
<rect x="218.55" y="371.49" width="4.47" height="40.31" fill="#6b6bff" stroke="#1a1a1a" stroke-width="1.0" />
<rect x="224.47" y="366.11" width="4.47" height="45.69" fill="#f082bd" stroke="#1a1a1a" stroke-width="1.0" />
<line x1="230.80" y1="409.60" x2="230.80" y2="411.80" stroke="#222" stroke-width="0.9" />
<rect x="232.80" y="382.81" width="4.47" height="28.99" fill="#000" stroke="#1a1a1a" stroke-width="1.0" />
<rect x="238.72" y="373.65" width="4.47" height="38.15" fill="#98f5bf" stroke="#1a1a1a" stroke-width="1.0" />
<rect x="244.65" y="365.03" width="4.47" height="46.77" fill="#6b6bff" stroke="#1a1a1a" stroke-width="1.0" />
<rect x="250.57" y="356.41" width="4.47" height="55.39" fill="#f082bd" stroke="#1a1a1a" stroke-width="1.0" />
<line x1="256.90" y1="409.60" x2="256.90" y2="411.80" stroke="#222" stroke-width="0.9" />
<rect x="258.90" y="381.19" width="4.47" height="30.61" fill="#000" stroke="#1a1a1a" stroke-width="1.0" />
<rect x="264.82" y="369.88" width="4.47" height="41.92" fill="#98f5bf" stroke="#1a1a1a" stroke-width="1.0" />
<rect x="270.75" y="358.56" width="4.47" height="53.24" fill="#6b6bff" stroke="#1a1a1a" stroke-width="1.0" />
<rect x="276.67" y="345.10" width="4.47" height="66.70" fill="#f082bd" stroke="#1a1a1a" stroke-width="1.0" />
<line x1="283.00" y1="409.60" x2="283.00" y2="411.80" stroke="#222" stroke-width="0.9" />
<line x1="152.10" y1="325.60" x2="152.10" y2="412.40" stroke="#111" stroke-width="1.6" />
<line x1="149.10" y1="325.60" x2="152.10" y2="325.60" stroke="#111" stroke-width="1.2" />
<line x1="149.60" y1="411.80" x2="283.20" y2="411.80" stroke="#111" stroke-width="1.5" />
<text x="206.30" y="336.60" font-size="11" font-weight="bold" fill="#1a1a1a" stroke="#1a1a1a" stroke-width="0.3" text-anchor="start" >N2. 65</text>
<rect x="286.60" y="391.78" width="4.44" height="20.02" fill="#000" stroke="#1a1a1a" stroke-width="1.0" />
<rect x="292.49" y="382.78" width="4.44" height="29.02" fill="#98f5bf" stroke="#1a1a1a" stroke-width="1.0" />
<rect x="298.38" y="372.73" width="4.44" height="39.07" fill="#6b6bff" stroke="#1a1a1a" stroke-width="1.0" />
<rect x="304.27" y="361.61" width="4.44" height="50.19" fill="#f082bd" stroke="#1a1a1a" stroke-width="1.0" />
<line x1="310.56" y1="409.60" x2="310.56" y2="411.80" stroke="#222" stroke-width="0.9" />
<rect x="312.55" y="392.84" width="4.44" height="18.96" fill="#000" stroke="#1a1a1a" stroke-width="1.0" />
<rect x="318.44" y="385.43" width="4.44" height="26.37" fill="#98f5bf" stroke="#1a1a1a" stroke-width="1.0" />
<rect x="324.33" y="378.55" width="4.44" height="33.25" fill="#6b6bff" stroke="#1a1a1a" stroke-width="1.0" />
<rect x="330.22" y="371.14" width="4.44" height="40.66" fill="#f082bd" stroke="#1a1a1a" stroke-width="1.0" />
<line x1="336.51" y1="409.60" x2="336.51" y2="411.80" stroke="#222" stroke-width="0.9" />
<rect x="338.50" y="393.90" width="4.44" height="17.90" fill="#000" stroke="#1a1a1a" stroke-width="1.0" />
<rect x="344.39" y="388.61" width="4.44" height="23.19" fill="#98f5bf" stroke="#1a1a1a" stroke-width="1.0" />
<rect x="350.28" y="383.31" width="4.44" height="28.49" fill="#6b6bff" stroke="#1a1a1a" stroke-width="1.0" />
<rect x="356.17" y="379.08" width="4.44" height="32.72" fill="#f082bd" stroke="#1a1a1a" stroke-width="1.0" />
<line x1="362.46" y1="409.60" x2="362.46" y2="411.80" stroke="#222" stroke-width="0.9" />
<rect x="364.45" y="392.84" width="4.44" height="18.96" fill="#000" stroke="#1a1a1a" stroke-width="1.0" />
<rect x="370.34" y="385.43" width="4.44" height="26.37" fill="#98f5bf" stroke="#1a1a1a" stroke-width="1.0" />
<rect x="376.23" y="378.55" width="4.44" height="33.25" fill="#6b6bff" stroke="#1a1a1a" stroke-width="1.0" />
<rect x="382.12" y="371.14" width="4.44" height="40.66" fill="#f082bd" stroke="#1a1a1a" stroke-width="1.0" />
<line x1="388.41" y1="409.60" x2="388.41" y2="411.80" stroke="#222" stroke-width="0.9" />
<rect x="390.40" y="391.25" width="4.44" height="20.55" fill="#000" stroke="#1a1a1a" stroke-width="1.0" />
<rect x="396.29" y="382.26" width="4.44" height="29.54" fill="#98f5bf" stroke="#1a1a1a" stroke-width="1.0" />
<rect x="402.18" y="372.20" width="4.44" height="39.60" fill="#6b6bff" stroke="#1a1a1a" stroke-width="1.0" />
<rect x="408.07" y="361.08" width="4.44" height="50.72" fill="#f082bd" stroke="#1a1a1a" stroke-width="1.0" />
<line x1="414.36" y1="409.60" x2="414.36" y2="411.80" stroke="#222" stroke-width="0.9" />
<line x1="284.10" y1="327.10" x2="284.10" y2="412.40" stroke="#111" stroke-width="1.6" />
<line x1="281.10" y1="327.10" x2="284.10" y2="327.10" stroke="#111" stroke-width="1.2" />
<line x1="281.60" y1="411.80" x2="414.70" y2="411.80" stroke="#111" stroke-width="1.5" />
<text x="331.60" y="338.50" font-size="11" font-weight="bold" fill="#1a1a1a" stroke="#1a1a1a" stroke-width="0.3" text-anchor="start" >N3. 70</text>
<rect x="26.10" y="473.92" width="4.11" height="32.78" fill="#000" stroke="#1a1a1a" stroke-width="1.0" />
<rect x="31.66" y="464.38" width="4.11" height="42.32" fill="#98f5bf" stroke="#1a1a1a" stroke-width="1.0" />
<rect x="37.22" y="452.42" width="4.11" height="54.28" fill="#6b6bff" stroke="#1a1a1a" stroke-width="1.0" />
<rect x="42.78" y="441.57" width="4.11" height="65.13" fill="#f082bd" stroke="#1a1a1a" stroke-width="1.0" />
<line x1="48.67" y1="504.50" x2="48.67" y2="506.70" stroke="#222" stroke-width="0.9" />
<rect x="50.60" y="483.26" width="4.11" height="23.44" fill="#000" stroke="#1a1a1a" stroke-width="1.0" />
<rect x="56.16" y="474.66" width="4.11" height="32.04" fill="#98f5bf" stroke="#1a1a1a" stroke-width="1.0" />
<rect x="61.72" y="465.48" width="4.11" height="41.22" fill="#6b6bff" stroke="#1a1a1a" stroke-width="1.0" />
<rect x="67.28" y="454.68" width="4.11" height="52.02" fill="#f082bd" stroke="#1a1a1a" stroke-width="1.0" />
<line x1="73.17" y1="504.50" x2="73.17" y2="506.70" stroke="#222" stroke-width="0.9" />
<rect x="75.10" y="491.12" width="4.11" height="15.58" fill="#000" stroke="#1a1a1a" stroke-width="1.0" />
<rect x="80.66" y="484.57" width="4.11" height="22.13" fill="#98f5bf" stroke="#1a1a1a" stroke-width="1.0" />
<rect x="86.22" y="477.44" width="4.11" height="29.26" fill="#6b6bff" stroke="#1a1a1a" stroke-width="1.0" />
<rect x="91.78" y="467.58" width="4.11" height="39.12" fill="#f082bd" stroke="#1a1a1a" stroke-width="1.0" />
<line x1="97.67" y1="504.50" x2="97.67" y2="506.70" stroke="#222" stroke-width="0.9" />
<rect x="99.60" y="474.66" width="4.11" height="32.04" fill="#000" stroke="#1a1a1a" stroke-width="1.0" />
<rect x="105.16" y="466.63" width="4.11" height="40.07" fill="#98f5bf" stroke="#1a1a1a" stroke-width="1.0" />
<rect x="110.72" y="457.46" width="4.11" height="49.24" fill="#6b6bff" stroke="#1a1a1a" stroke-width="1.0" />
<rect x="116.28" y="449.22" width="4.11" height="57.48" fill="#f082bd" stroke="#1a1a1a" stroke-width="1.0" />
<line x1="122.17" y1="504.50" x2="122.17" y2="506.70" stroke="#222" stroke-width="0.9" />
<rect x="124.10" y="484.36" width="4.11" height="22.34" fill="#000" stroke="#1a1a1a" stroke-width="1.0" />
<rect x="129.66" y="477.44" width="4.11" height="29.26" fill="#98f5bf" stroke="#1a1a1a" stroke-width="1.0" />
<rect x="135.22" y="470.36" width="4.11" height="36.34" fill="#6b6bff" stroke="#1a1a1a" stroke-width="1.0" />
<rect x="140.78" y="462.49" width="4.11" height="44.21" fill="#f082bd" stroke="#1a1a1a" stroke-width="1.0" />
<line x1="146.67" y1="504.50" x2="146.67" y2="506.70" stroke="#222" stroke-width="0.9" />
<line x1="23.60" y1="422.80" x2="23.60" y2="507.30" stroke="#111" stroke-width="1.6" />
<line x1="20.60" y1="422.80" x2="23.60" y2="422.80" stroke="#111" stroke-width="1.2" />
<line x1="21.10" y1="506.70" x2="148.80" y2="506.70" stroke="#111" stroke-width="1.5" />
<text x="70.10" y="433.80" font-size="11" font-weight="bold" fill="#1a1a1a" stroke="#1a1a1a" stroke-width="0.3" text-anchor="start" >F1. 60</text>
<rect x="151.50" y="491.96" width="4.52" height="14.74" fill="#000" stroke="#1a1a1a" stroke-width="1.0" />
<rect x="157.47" y="486.41" width="4.52" height="20.29" fill="#98f5bf" stroke="#1a1a1a" stroke-width="1.0" />
<rect x="163.44" y="480.66" width="4.52" height="26.04" fill="#6b6bff" stroke="#1a1a1a" stroke-width="1.0" />
<rect x="169.41" y="473.69" width="4.52" height="33.01" fill="#f082bd" stroke="#1a1a1a" stroke-width="1.0" />
<line x1="175.79" y1="504.50" x2="175.79" y2="506.70" stroke="#222" stroke-width="0.9" />
<rect x="177.80" y="475.11" width="4.52" height="31.59" fill="#000" stroke="#1a1a1a" stroke-width="1.0" />
<rect x="183.77" y="468.35" width="4.52" height="38.35" fill="#98f5bf" stroke="#1a1a1a" stroke-width="1.0" />
<rect x="189.74" y="460.59" width="4.52" height="46.11" fill="#6b6bff" stroke="#1a1a1a" stroke-width="1.0" />
<rect x="195.71" y="455.62" width="4.52" height="51.08" fill="#f082bd" stroke="#1a1a1a" stroke-width="1.0" />
<line x1="202.09" y1="504.50" x2="202.09" y2="506.70" stroke="#222" stroke-width="0.9" />
<rect x="204.10" y="484.62" width="4.52" height="22.08" fill="#000" stroke="#1a1a1a" stroke-width="1.0" />
<rect x="210.07" y="478.65" width="4.52" height="28.05" fill="#98f5bf" stroke="#1a1a1a" stroke-width="1.0" />
<rect x="216.04" y="473.32" width="4.52" height="33.38" fill="#6b6bff" stroke="#1a1a1a" stroke-width="1.0" />
<rect x="222.01" y="467.93" width="4.52" height="38.77" fill="#f082bd" stroke="#1a1a1a" stroke-width="1.0" />
<line x1="228.39" y1="504.50" x2="228.39" y2="506.70" stroke="#222" stroke-width="0.9" />
<rect x="230.40" y="492.38" width="4.52" height="14.32" fill="#000" stroke="#1a1a1a" stroke-width="1.0" />
<rect x="236.37" y="488.00" width="4.52" height="18.70" fill="#98f5bf" stroke="#1a1a1a" stroke-width="1.0" />
<rect x="242.34" y="484.25" width="4.52" height="22.45" fill="#6b6bff" stroke="#1a1a1a" stroke-width="1.0" />
<rect x="248.31" y="479.28" width="4.52" height="27.42" fill="#f082bd" stroke="#1a1a1a" stroke-width="1.0" />
<line x1="254.69" y1="504.50" x2="254.69" y2="506.70" stroke="#222" stroke-width="0.9" />
<rect x="256.70" y="474.69" width="4.52" height="32.01" fill="#000" stroke="#1a1a1a" stroke-width="1.0" />
<rect x="262.67" y="467.35" width="4.52" height="39.35" fill="#98f5bf" stroke="#1a1a1a" stroke-width="1.0" />
<rect x="268.64" y="458.21" width="4.52" height="48.49" fill="#6b6bff" stroke="#1a1a1a" stroke-width="1.0" />
<rect x="274.61" y="451.29" width="4.52" height="55.41" fill="#f082bd" stroke="#1a1a1a" stroke-width="1.0" />
<line x1="280.99" y1="504.50" x2="280.99" y2="506.70" stroke="#222" stroke-width="0.9" />
<line x1="148.80" y1="422.20" x2="148.80" y2="507.30" stroke="#111" stroke-width="1.6" />
<line x1="145.80" y1="422.20" x2="148.80" y2="422.20" stroke="#111" stroke-width="1.2" />
<line x1="146.30" y1="506.70" x2="283.20" y2="506.70" stroke="#111" stroke-width="1.5" />
<text x="198.00" y="433.50" font-size="11" font-weight="bold" fill="#1a1a1a" stroke="#1a1a1a" stroke-width="0.3" text-anchor="start" >F2. 65</text>
<rect x="285.50" y="484.22" width="4.52" height="22.48" fill="#000" stroke="#1a1a1a" stroke-width="1.0" />
<rect x="291.47" y="477.44" width="4.52" height="29.26" fill="#98f5bf" stroke="#1a1a1a" stroke-width="1.0" />
<rect x="297.44" y="470.93" width="4.52" height="35.77" fill="#6b6bff" stroke="#1a1a1a" stroke-width="1.0" />
<rect x="303.41" y="463.62" width="4.52" height="43.08" fill="#f082bd" stroke="#1a1a1a" stroke-width="1.0" />
<line x1="309.79" y1="504.50" x2="309.79" y2="506.70" stroke="#222" stroke-width="0.9" />
<rect x="311.80" y="492.02" width="4.52" height="14.68" fill="#000" stroke="#1a1a1a" stroke-width="1.0" />
<rect x="317.77" y="486.62" width="4.52" height="20.08" fill="#98f5bf" stroke="#1a1a1a" stroke-width="1.0" />
<rect x="323.74" y="481.66" width="4.52" height="25.04" fill="#6b6bff" stroke="#1a1a1a" stroke-width="1.0" />
<rect x="329.71" y="475.52" width="4.52" height="31.18" fill="#f082bd" stroke="#1a1a1a" stroke-width="1.0" />
<line x1="336.09" y1="504.50" x2="336.09" y2="506.70" stroke="#222" stroke-width="0.9" />
<rect x="338.10" y="473.33" width="4.52" height="33.37" fill="#000" stroke="#1a1a1a" stroke-width="1.0" />
<rect x="344.07" y="463.99" width="4.52" height="42.71" fill="#98f5bf" stroke="#1a1a1a" stroke-width="1.0" />
<rect x="350.04" y="451.88" width="4.52" height="54.82" fill="#6b6bff" stroke="#1a1a1a" stroke-width="1.0" />
<rect x="356.01" y="440.40" width="4.52" height="66.30" fill="#f082bd" stroke="#1a1a1a" stroke-width="1.0" />
<line x1="362.39" y1="504.50" x2="362.39" y2="506.70" stroke="#222" stroke-width="0.9" />
<rect x="364.40" y="483.26" width="4.52" height="23.44" fill="#000" stroke="#1a1a1a" stroke-width="1.0" />
<rect x="370.37" y="474.35" width="4.52" height="32.35" fill="#98f5bf" stroke="#1a1a1a" stroke-width="1.0" />
<rect x="376.34" y="465.38" width="4.52" height="41.32" fill="#6b6bff" stroke="#1a1a1a" stroke-width="1.0" />
<rect x="382.31" y="454.49" width="4.52" height="52.21" fill="#f082bd" stroke="#1a1a1a" stroke-width="1.0" />
<line x1="388.69" y1="504.50" x2="388.69" y2="506.70" stroke="#222" stroke-width="0.9" />
<rect x="390.70" y="490.95" width="4.52" height="15.75" fill="#000" stroke="#1a1a1a" stroke-width="1.0" />
<rect x="396.67" y="484.22" width="4.52" height="22.48" fill="#98f5bf" stroke="#1a1a1a" stroke-width="1.0" />
<rect x="402.64" y="477.07" width="4.52" height="29.63" fill="#6b6bff" stroke="#1a1a1a" stroke-width="1.0" />
<rect x="408.61" y="467.36" width="4.52" height="39.34" fill="#f082bd" stroke="#1a1a1a" stroke-width="1.0" />
<line x1="414.99" y1="504.50" x2="414.99" y2="506.70" stroke="#222" stroke-width="0.9" />
<line x1="283.20" y1="421.30" x2="283.20" y2="507.30" stroke="#111" stroke-width="1.6" />
<line x1="280.20" y1="421.30" x2="283.20" y2="421.30" stroke="#111" stroke-width="1.2" />
<line x1="280.70" y1="506.70" x2="415.50" y2="506.70" stroke="#111" stroke-width="1.5" />
<text x="332.00" y="433.10" font-size="11" font-weight="bold" fill="#1a1a1a" stroke="#1a1a1a" stroke-width="0.3" text-anchor="start" >F3.70</text>
<text x="15.60" y="331.10" font-size="9.6" font-weight="bold" fill="#1a1a1a" stroke="#1a1a1a" stroke-width="0.3" text-anchor="end" >16</text>
<text x="15.60" y="415.20" font-size="9.6" font-weight="bold" fill="#1a1a1a" stroke="#1a1a1a" stroke-width="0.3" text-anchor="end" >0</text>
<text x="15.60" y="426.20" font-size="9.6" font-weight="bold" fill="#1a1a1a" stroke="#1a1a1a" stroke-width="0.3" text-anchor="end" >16</text>
<text x="15.60" y="510.10" font-size="9.6" font-weight="bold" fill="#1a1a1a" stroke="#1a1a1a" stroke-width="0.3" text-anchor="end" >0</text>
<text x="9.50" y="370.00" font-size="11.8" font-weight="bold" fill="#1a1a1a" stroke="#1a1a1a" stroke-width="0.3" text-anchor="middle" transform="rotate(-90 9.5 370.0)">Near region</text>
<text x="9.50" y="462.40" font-size="11.8" font-weight="bold" fill="#1a1a1a" stroke="#1a1a1a" stroke-width="0.3" text-anchor="middle" transform="rotate(-90 9.5 462.4)">Far region</text>
<text x="25.30" y="519.60" font-size="8.6" font-weight="bold" fill="#1a1a1a" stroke="#1a1a1a" stroke-width="0.3" text-anchor="start" >SSP1</text>
<text x="49.80" y="519.60" font-size="8.6" font-weight="bold" fill="#1a1a1a" stroke="#1a1a1a" stroke-width="0.3" text-anchor="start" >SSP2</text>
<text x="74.40" y="519.60" font-size="8.6" font-weight="bold" fill="#1a1a1a" stroke="#1a1a1a" stroke-width="0.3" text-anchor="start" >SSP3</text>
<text x="98.50" y="519.60" font-size="8.6" font-weight="bold" fill="#1a1a1a" stroke="#1a1a1a" stroke-width="0.3" text-anchor="start" >SSP4</text>
<text x="123.00" y="519.60" font-size="8.6" font-weight="bold" fill="#1a1a1a" stroke="#1a1a1a" stroke-width="0.3" text-anchor="start" >SSP5</text>
<text x="151.00" y="519.60" font-size="8.6" font-weight="bold" fill="#1a1a1a" stroke="#1a1a1a" stroke-width="0.3" text-anchor="start" >SSP1</text>
<text x="177.60" y="519.60" font-size="8.6" font-weight="bold" fill="#1a1a1a" stroke="#1a1a1a" stroke-width="0.3" text-anchor="start" >SSP2</text>
<text x="204.00" y="519.60" font-size="8.6" font-weight="bold" fill="#1a1a1a" stroke="#1a1a1a" stroke-width="0.3" text-anchor="start" >SSP3</text>
<text x="230.40" y="519.60" font-size="8.6" font-weight="bold" fill="#1a1a1a" stroke="#1a1a1a" stroke-width="0.3" text-anchor="start" >SSP4</text>
<text x="256.60" y="519.60" font-size="8.6" font-weight="bold" fill="#1a1a1a" stroke="#1a1a1a" stroke-width="0.3" text-anchor="start" >SSP5</text>
<text x="284.90" y="519.60" font-size="8.6" font-weight="bold" fill="#1a1a1a" stroke="#1a1a1a" stroke-width="0.3" text-anchor="start" >SSP1</text>
<text x="311.30" y="519.60" font-size="8.6" font-weight="bold" fill="#1a1a1a" stroke="#1a1a1a" stroke-width="0.3" text-anchor="start" >SSP2</text>
<text x="337.70" y="519.60" font-size="8.6" font-weight="bold" fill="#1a1a1a" stroke="#1a1a1a" stroke-width="0.3" text-anchor="start" >SSP3</text>
<text x="364.40" y="519.60" font-size="8.6" font-weight="bold" fill="#1a1a1a" stroke="#1a1a1a" stroke-width="0.3" text-anchor="start" >SSP4</text>
<text x="390.80" y="519.60" font-size="8.6" font-weight="bold" fill="#1a1a1a" stroke="#1a1a1a" stroke-width="0.3" text-anchor="start" >SSP5</text>
<rect x="23.60" y="529.60" width="4.10" height="4.00" fill="#000" stroke="#222" stroke-width="0.6" />
<text x="29.20" y="533.90" font-size="7.6" font-weight="bold" fill="#1a1a1a" stroke="#1a1a1a" stroke-width="0.3" text-anchor="start" >2030</text>
<rect x="53.30" y="529.60" width="4.10" height="4.00" fill="#98f5bf" stroke="#222" stroke-width="0.6" />
<text x="58.90" y="533.90" font-size="7.6" font-weight="bold" fill="#1a1a1a" stroke="#1a1a1a" stroke-width="0.3" text-anchor="start" >2040</text>
<rect x="83.00" y="529.60" width="4.10" height="4.00" fill="#6b6bff" stroke="#222" stroke-width="0.6" />
<text x="88.60" y="533.90" font-size="7.6" font-weight="bold" fill="#1a1a1a" stroke="#1a1a1a" stroke-width="0.3" text-anchor="start" >2050</text>
<rect x="112.70" y="529.60" width="4.10" height="4.00" fill="#f082bd" stroke="#222" stroke-width="0.6" />
<text x="118.30" y="533.90" font-size="7.6" font-weight="bold" fill="#1a1a1a" stroke="#1a1a1a" stroke-width="0.3" text-anchor="start" >2060</text>
<rect x="162.90" y="529.60" width="4.10" height="4.00" fill="#000" stroke="#222" stroke-width="0.6" />
<text x="168.50" y="533.90" font-size="7.6" font-weight="bold" fill="#1a1a1a" stroke="#1a1a1a" stroke-width="0.3" text-anchor="start" >2030</text>
<rect x="192.60" y="529.60" width="4.10" height="4.00" fill="#98f5bf" stroke="#222" stroke-width="0.6" />
<text x="198.20" y="533.90" font-size="7.6" font-weight="bold" fill="#1a1a1a" stroke="#1a1a1a" stroke-width="0.3" text-anchor="start" >2040</text>
<rect x="222.30" y="529.60" width="4.10" height="4.00" fill="#6b6bff" stroke="#222" stroke-width="0.6" />
<text x="227.90" y="533.90" font-size="7.6" font-weight="bold" fill="#1a1a1a" stroke="#1a1a1a" stroke-width="0.3" text-anchor="start" >2050</text>
<rect x="252.00" y="529.60" width="4.10" height="4.00" fill="#f082bd" stroke="#222" stroke-width="0.6" />
<text x="257.60" y="533.90" font-size="7.6" font-weight="bold" fill="#1a1a1a" stroke="#1a1a1a" stroke-width="0.3" text-anchor="start" >2060</text>
<rect x="294.70" y="529.60" width="4.10" height="4.00" fill="#000" stroke="#222" stroke-width="0.6" />
<text x="300.30" y="533.90" font-size="7.6" font-weight="bold" fill="#1a1a1a" stroke="#1a1a1a" stroke-width="0.3" text-anchor="start" >2030</text>
<rect x="324.40" y="529.60" width="4.10" height="4.00" fill="#98f5bf" stroke="#222" stroke-width="0.6" />
<text x="330.00" y="533.90" font-size="7.6" font-weight="bold" fill="#1a1a1a" stroke="#1a1a1a" stroke-width="0.3" text-anchor="start" >2040</text>
<rect x="354.10" y="529.60" width="4.10" height="4.00" fill="#6b6bff" stroke="#222" stroke-width="0.6" />
<text x="359.70" y="533.90" font-size="7.6" font-weight="bold" fill="#1a1a1a" stroke="#1a1a1a" stroke-width="0.3" text-anchor="start" >2050</text>
<rect x="383.80" y="529.60" width="4.10" height="4.00" fill="#f082bd" stroke="#222" stroke-width="0.6" />
<text x="389.40" y="533.90" font-size="7.6" font-weight="bold" fill="#1a1a1a" stroke="#1a1a1a" stroke-width="0.3" text-anchor="start" >2060</text>
<rect x="508.60" y="41.10" width="27.00" height="14.20" fill="#3a10fa" shape-rendering="crispEdges"/>
<rect x="535.60" y="41.10" width="29.60" height="14.20" fill="#de94bc" shape-rendering="crispEdges"/>
<text x="505.90" y="53.20" font-size="10.3" font-weight="normal" fill="#2a2a2a" stroke="#2a2a2a" stroke-width="0.15" text-anchor="end" >SSP1</text>
<text x="522.40" y="53.20" font-size="10.3" font-weight="normal" fill="#1a1a1a" stroke="#1a1a1a" stroke-width="0.15" text-anchor="middle" >20%</text>
<text x="550.70" y="53.20" font-size="10.3" font-weight="normal" fill="#1a1a1a" stroke="#1a1a1a" stroke-width="0.15" text-anchor="middle" >39%</text>
<rect x="508.60" y="55.30" width="27.00" height="13.60" fill="#3d24f5" shape-rendering="crispEdges"/>
<rect x="535.60" y="55.30" width="29.60" height="13.60" fill="#daa3cd" shape-rendering="crispEdges"/>
<text x="505.90" y="67.10" font-size="10.3" font-weight="normal" fill="#2a2a2a" stroke="#2a2a2a" stroke-width="0.15" text-anchor="end" >SSP2</text>
<text x="522.40" y="67.10" font-size="10.3" font-weight="normal" fill="#1a1a1a" stroke="#1a1a1a" stroke-width="0.15" text-anchor="middle" >19%</text>
<text x="550.70" y="67.10" font-size="10.3" font-weight="normal" fill="#1a1a1a" stroke="#1a1a1a" stroke-width="0.15" text-anchor="middle" >33%</text>
<rect x="508.60" y="68.90" width="27.00" height="14.20" fill="#4138ef" shape-rendering="crispEdges"/>
<rect x="535.60" y="68.90" width="29.60" height="14.20" fill="#d6afdb" shape-rendering="crispEdges"/>
<text x="505.90" y="81.00" font-size="10.3" font-weight="normal" fill="#2a2a2a" stroke="#2a2a2a" stroke-width="0.15" text-anchor="end" >SSP3</text>
<text x="522.40" y="81.00" font-size="10.3" font-weight="normal" fill="#1a1a1a" stroke="#1a1a1a" stroke-width="0.15" text-anchor="middle" >18%</text>
<text x="550.70" y="81.00" font-size="10.3" font-weight="normal" fill="#1a1a1a" stroke="#1a1a1a" stroke-width="0.15" text-anchor="middle" >28%</text>
<rect x="508.60" y="83.10" width="27.00" height="13.10" fill="#3d24f5" shape-rendering="crispEdges"/>
<rect x="535.60" y="83.10" width="29.60" height="13.10" fill="#daa3cd" shape-rendering="crispEdges"/>
<text x="505.90" y="94.65" font-size="10.3" font-weight="normal" fill="#2a2a2a" stroke="#2a2a2a" stroke-width="0.15" text-anchor="end" >SSP4</text>
<text x="522.40" y="94.65" font-size="10.3" font-weight="normal" fill="#1a1a1a" stroke="#1a1a1a" stroke-width="0.15" text-anchor="middle" >19%</text>
<text x="550.70" y="94.65" font-size="10.3" font-weight="normal" fill="#1a1a1a" stroke="#1a1a1a" stroke-width="0.15" text-anchor="middle" >33%</text>
<rect x="508.60" y="96.20" width="27.00" height="14.10" fill="#3a10fa" shape-rendering="crispEdges"/>
<rect x="535.60" y="96.20" width="29.60" height="14.10" fill="#de94bc" shape-rendering="crispEdges"/>
<text x="505.90" y="108.25" font-size="10.3" font-weight="normal" fill="#2a2a2a" stroke="#2a2a2a" stroke-width="0.15" text-anchor="end" >SSP5</text>
<text x="522.40" y="108.25" font-size="10.3" font-weight="normal" fill="#1a1a1a" stroke="#1a1a1a" stroke-width="0.15" text-anchor="middle" >20%</text>
<text x="550.70" y="108.25" font-size="10.3" font-weight="normal" fill="#1a1a1a" stroke="#1a1a1a" stroke-width="0.15" text-anchor="middle" >39%</text>
<rect x="508.60" y="110.30" width="27.00" height="13.40" fill="#4f85d7" shape-rendering="crispEdges"/>
<rect x="535.60" y="110.30" width="29.60" height="13.40" fill="#d8a8d2" shape-rendering="crispEdges"/>
<text x="505.90" y="122.00" font-size="10.3" font-weight="normal" fill="#2a2a2a" stroke="#2a2a2a" stroke-width="0.15" text-anchor="end" >SSP1</text>
<text x="522.40" y="122.00" font-size="10.3" font-weight="normal" fill="#1a1a1a" stroke="#1a1a1a" stroke-width="0.15" text-anchor="middle" >14%</text>
<text x="550.70" y="122.00" font-size="10.3" font-weight="normal" fill="#1a1a1a" stroke="#1a1a1a" stroke-width="0.15" text-anchor="middle" >31%</text>
<rect x="508.60" y="123.70" width="27.00" height="13.50" fill="#4f85d7" shape-rendering="crispEdges"/>
<rect x="535.60" y="123.70" width="29.60" height="13.50" fill="#d5b4e0" shape-rendering="crispEdges"/>
<text x="505.90" y="135.45" font-size="10.3" font-weight="normal" fill="#2a2a2a" stroke="#2a2a2a" stroke-width="0.15" text-anchor="end" >SSP2</text>
<text x="522.40" y="135.45" font-size="10.3" font-weight="normal" fill="#1a1a1a" stroke="#1a1a1a" stroke-width="0.15" text-anchor="middle" >14%</text>
<text x="550.70" y="135.45" font-size="10.3" font-weight="normal" fill="#1a1a1a" stroke="#1a1a1a" stroke-width="0.15" text-anchor="middle" >26%</text>
<rect x="508.60" y="137.20" width="27.00" height="13.90" fill="#5694cc" shape-rendering="crispEdges"/>
<rect x="535.60" y="137.20" width="29.60" height="13.90" fill="#d2beeb" shape-rendering="crispEdges"/>
<text x="505.90" y="149.15" font-size="10.3" font-weight="normal" fill="#2a2a2a" stroke="#2a2a2a" stroke-width="0.15" text-anchor="end" >SSP3</text>
<text x="522.40" y="149.15" font-size="10.3" font-weight="normal" fill="#1a1a1a" stroke="#1a1a1a" stroke-width="0.15" text-anchor="middle" >13%</text>
<text x="550.70" y="149.15" font-size="10.3" font-weight="normal" fill="#1a1a1a" stroke="#1a1a1a" stroke-width="0.15" text-anchor="middle" >22%</text>
<rect x="508.60" y="151.10" width="27.00" height="13.10" fill="#4f85d7" shape-rendering="crispEdges"/>
<rect x="535.60" y="151.10" width="29.60" height="13.10" fill="#d5b4e0" shape-rendering="crispEdges"/>
<text x="505.90" y="162.65" font-size="10.3" font-weight="normal" fill="#2a2a2a" stroke="#2a2a2a" stroke-width="0.15" text-anchor="end" >SSP4</text>
<text x="522.40" y="162.65" font-size="10.3" font-weight="normal" fill="#1a1a1a" stroke="#1a1a1a" stroke-width="0.15" text-anchor="middle" >14%</text>
<text x="550.70" y="162.65" font-size="10.3" font-weight="normal" fill="#1a1a1a" stroke="#1a1a1a" stroke-width="0.15" text-anchor="middle" >26%</text>
<rect x="508.60" y="164.20" width="27.00" height="14.10" fill="#4f85d7" shape-rendering="crispEdges"/>
<rect x="535.60" y="164.20" width="29.60" height="14.10" fill="#d9a5cf" shape-rendering="crispEdges"/>
<text x="505.90" y="176.25" font-size="10.3" font-weight="normal" fill="#2a2a2a" stroke="#2a2a2a" stroke-width="0.15" text-anchor="end" >SSP5</text>
<text x="522.40" y="176.25" font-size="10.3" font-weight="normal" fill="#1a1a1a" stroke="#1a1a1a" stroke-width="0.15" text-anchor="middle" >14%</text>
<text x="550.70" y="176.25" font-size="10.3" font-weight="normal" fill="#1a1a1a" stroke="#1a1a1a" stroke-width="0.15" text-anchor="middle" >32%</text>
<rect x="508.60" y="178.30" width="27.00" height="13.40" fill="#69c1ab" shape-rendering="crispEdges"/>
<rect x="535.60" y="178.30" width="29.60" height="13.40" fill="#d4b9e6" shape-rendering="crispEdges"/>
<text x="505.90" y="190.00" font-size="10.3" font-weight="normal" fill="#2a2a2a" stroke="#2a2a2a" stroke-width="0.15" text-anchor="end" >SSP1</text>
<text x="522.40" y="190.00" font-size="10.3" font-weight="normal" fill="#1a1a1a" stroke="#1a1a1a" stroke-width="0.15" text-anchor="middle" >10%</text>
<text x="550.70" y="190.00" font-size="10.3" font-weight="normal" fill="#1a1a1a" stroke="#1a1a1a" stroke-width="0.15" text-anchor="middle" >24%</text>
<rect x="508.60" y="191.70" width="27.00" height="13.50" fill="#70d0a0" shape-rendering="crispEdges"/>
<rect x="535.60" y="191.70" width="29.60" height="13.50" fill="#d1c3f1" shape-rendering="crispEdges"/>
<text x="505.90" y="203.45" font-size="10.3" font-weight="normal" fill="#2a2a2a" stroke="#2a2a2a" stroke-width="0.15" text-anchor="end" >SSP2</text>
<text x="522.40" y="203.45" font-size="10.3" font-weight="normal" fill="#1a1a1a" stroke="#1a1a1a" stroke-width="0.15" text-anchor="middle" >9%</text>
<text x="550.70" y="203.45" font-size="10.3" font-weight="normal" fill="#1a1a1a" stroke="#1a1a1a" stroke-width="0.15" text-anchor="middle" >20%</text>
<rect x="508.60" y="205.20" width="27.00" height="13.90" fill="#70d0a0" shape-rendering="crispEdges"/>
<rect x="535.60" y="205.20" width="29.60" height="13.90" fill="#cecdfc" shape-rendering="crispEdges"/>
<text x="505.90" y="217.15" font-size="10.3" font-weight="normal" fill="#2a2a2a" stroke="#2a2a2a" stroke-width="0.15" text-anchor="end" >SSP3</text>
<text x="522.40" y="217.15" font-size="10.3" font-weight="normal" fill="#1a1a1a" stroke="#1a1a1a" stroke-width="0.15" text-anchor="middle" >9%</text>
<text x="550.70" y="217.15" font-size="10.3" font-weight="normal" fill="#1a1a1a" stroke="#1a1a1a" stroke-width="0.15" text-anchor="middle" >16%</text>
<rect x="508.60" y="219.10" width="27.00" height="13.10" fill="#70d0a0" shape-rendering="crispEdges"/>
<rect x="535.60" y="219.10" width="29.60" height="13.10" fill="#d1c3f1" shape-rendering="crispEdges"/>
<text x="505.90" y="230.65" font-size="10.3" font-weight="normal" fill="#2a2a2a" stroke="#2a2a2a" stroke-width="0.15" text-anchor="end" >SSP4</text>
<text x="522.40" y="230.65" font-size="10.3" font-weight="normal" fill="#1a1a1a" stroke="#1a1a1a" stroke-width="0.15" text-anchor="middle" >9%</text>
<text x="550.70" y="230.65" font-size="10.3" font-weight="normal" fill="#1a1a1a" stroke="#1a1a1a" stroke-width="0.15" text-anchor="middle" >20%</text>
<rect x="508.60" y="232.20" width="27.00" height="14.10" fill="#69c1ab" shape-rendering="crispEdges"/>
<rect x="535.60" y="232.20" width="29.60" height="14.10" fill="#d4b9e6" shape-rendering="crispEdges"/>
<text x="505.90" y="244.25" font-size="10.3" font-weight="normal" fill="#2a2a2a" stroke="#2a2a2a" stroke-width="0.15" text-anchor="end" >SSP5</text>
<text x="522.40" y="244.25" font-size="10.3" font-weight="normal" fill="#1a1a1a" stroke="#1a1a1a" stroke-width="0.15" text-anchor="middle" >10%</text>
<text x="550.70" y="244.25" font-size="10.3" font-weight="normal" fill="#1a1a1a" stroke="#1a1a1a" stroke-width="0.15" text-anchor="middle" >24%</text>
<line x1="456.60" y1="41.50" x2="565.20" y2="41.50" stroke="#333" stroke-width="1.0" />
<line x1="477.60" y1="55.50" x2="508.60" y2="55.50" stroke="#555" stroke-width="1.0" />
<line x1="477.60" y1="68.50" x2="508.60" y2="68.50" stroke="#555" stroke-width="1.0" />
<line x1="477.60" y1="83.50" x2="508.60" y2="83.50" stroke="#555" stroke-width="1.0" />
<line x1="477.60" y1="96.50" x2="508.60" y2="96.50" stroke="#555" stroke-width="1.0" />
<line x1="456.60" y1="110.50" x2="565.20" y2="110.50" stroke="#333" stroke-width="1.0" />
<line x1="477.60" y1="123.50" x2="508.60" y2="123.50" stroke="#555" stroke-width="1.0" />
<line x1="477.60" y1="137.50" x2="508.60" y2="137.50" stroke="#555" stroke-width="1.0" />
<line x1="477.60" y1="151.50" x2="508.60" y2="151.50" stroke="#555" stroke-width="1.0" />
<line x1="477.60" y1="164.50" x2="508.60" y2="164.50" stroke="#555" stroke-width="1.0" />
<line x1="456.60" y1="178.50" x2="565.20" y2="178.50" stroke="#333" stroke-width="1.0" />
<line x1="477.60" y1="191.50" x2="508.60" y2="191.50" stroke="#555" stroke-width="1.0" />
<line x1="477.60" y1="205.50" x2="508.60" y2="205.50" stroke="#555" stroke-width="1.0" />
<line x1="477.60" y1="219.50" x2="508.60" y2="219.50" stroke="#555" stroke-width="1.0" />
<line x1="477.60" y1="232.50" x2="508.60" y2="232.50" stroke="#555" stroke-width="1.0" />
<line x1="456.60" y1="246.50" x2="565.20" y2="246.50" stroke="#333" stroke-width="1.0" />
<text x="467.20" y="79.60" font-size="10" font-weight="bold" fill="#111" stroke="#111" stroke-width="0.3" text-anchor="middle" >60</text>
<text x="467.20" y="147.75" font-size="10" font-weight="bold" fill="#111" stroke="#111" stroke-width="0.3" text-anchor="middle" >65</text>
<text x="467.20" y="215.75" font-size="10" font-weight="bold" fill="#111" stroke="#111" stroke-width="0.3" text-anchor="middle" >70</text>
<text x="522.40" y="38.60" font-size="10" font-weight="bold" fill="#111" stroke="#111" stroke-width="0.3" text-anchor="middle" >2030</text>
<text x="550.70" y="38.60" font-size="10" font-weight="bold" fill="#111" stroke="#111" stroke-width="0.3" text-anchor="middle" >2060</text>
<text x="507.40" y="258.00" font-size="10" font-weight="bold" fill="#111" stroke="#111" stroke-width="0.3" text-anchor="middle" >C1. Near region</text>
<rect x="627.40" y="41.10" width="27.00" height="14.20" fill="#3a10fa" shape-rendering="crispEdges"/>
<rect x="654.40" y="41.10" width="29.60" height="14.20" fill="#de94bc" shape-rendering="crispEdges"/>
<text x="624.70" y="53.20" font-size="10.3" font-weight="normal" fill="#2a2a2a" stroke="#2a2a2a" stroke-width="0.15" text-anchor="end" >SSP1</text>
<text x="641.20" y="53.20" font-size="10.3" font-weight="normal" fill="#1a1a1a" stroke="#1a1a1a" stroke-width="0.15" text-anchor="middle" >16%</text>
<text x="669.50" y="53.20" font-size="10.3" font-weight="normal" fill="#1a1a1a" stroke="#1a1a1a" stroke-width="0.15" text-anchor="middle" >33%</text>
<rect x="627.40" y="55.30" width="27.00" height="13.60" fill="#4a72df" shape-rendering="crispEdges"/>
<rect x="654.40" y="55.30" width="29.60" height="13.60" fill="#d8a8d2" shape-rendering="crispEdges"/>
<text x="624.70" y="67.10" font-size="10.3" font-weight="normal" fill="#2a2a2a" stroke="#2a2a2a" stroke-width="0.15" text-anchor="end" >SSP2</text>
<text x="641.20" y="67.10" font-size="10.3" font-weight="normal" fill="#1a1a1a" stroke="#1a1a1a" stroke-width="0.15" text-anchor="middle" >12%</text>
<text x="669.50" y="67.10" font-size="10.3" font-weight="normal" fill="#1a1a1a" stroke="#1a1a1a" stroke-width="0.15" text-anchor="middle" >26%</text>
<rect x="627.40" y="68.90" width="27.00" height="14.20" fill="#68bead" shape-rendering="crispEdges"/>
<rect x="654.40" y="68.90" width="29.60" height="14.20" fill="#d4b9e6" shape-rendering="crispEdges"/>
<text x="624.70" y="81.00" font-size="10.3" font-weight="normal" fill="#2a2a2a" stroke="#2a2a2a" stroke-width="0.15" text-anchor="end" >SSP3</text>
<text x="641.20" y="81.00" font-size="10.3" font-weight="normal" fill="#1a1a1a" stroke="#1a1a1a" stroke-width="0.15" text-anchor="middle" >8%</text>
<text x="669.50" y="81.00" font-size="10.3" font-weight="normal" fill="#1a1a1a" stroke="#1a1a1a" stroke-width="0.15" text-anchor="middle" >20%</text>
<rect x="627.40" y="83.10" width="27.00" height="13.10" fill="#3a10fa" shape-rendering="crispEdges"/>
<rect x="654.40" y="83.10" width="29.60" height="13.10" fill="#db9fc9" shape-rendering="crispEdges"/>
<text x="624.70" y="94.65" font-size="10.3" font-weight="normal" fill="#2a2a2a" stroke="#2a2a2a" stroke-width="0.15" text-anchor="end" >SSP4</text>
<text x="641.20" y="94.65" font-size="10.3" font-weight="normal" fill="#1a1a1a" stroke="#1a1a1a" stroke-width="0.15" text-anchor="middle" >16%</text>
<text x="669.50" y="94.65" font-size="10.3" font-weight="normal" fill="#1a1a1a" stroke="#1a1a1a" stroke-width="0.15" text-anchor="middle" >29%</text>
<rect x="627.40" y="96.20" width="27.00" height="14.10" fill="#5087d5" shape-rendering="crispEdges"/>
<rect x="654.40" y="96.20" width="29.60" height="14.10" fill="#d5b3df" shape-rendering="crispEdges"/>
<text x="624.70" y="108.25" font-size="10.3" font-weight="normal" fill="#2a2a2a" stroke="#2a2a2a" stroke-width="0.15" text-anchor="end" >SSP5</text>
<text x="641.20" y="108.25" font-size="10.3" font-weight="normal" fill="#1a1a1a" stroke="#1a1a1a" stroke-width="0.15" text-anchor="middle" >11%</text>
<text x="669.50" y="108.25" font-size="10.3" font-weight="normal" fill="#1a1a1a" stroke="#1a1a1a" stroke-width="0.15" text-anchor="middle" >22%</text>
<rect x="627.40" y="110.30" width="27.00" height="13.40" fill="#70d0a0" shape-rendering="crispEdges"/>
<rect x="654.40" y="110.30" width="29.60" height="13.40" fill="#d0c4f2" shape-rendering="crispEdges"/>
<text x="624.70" y="122.00" font-size="10.3" font-weight="normal" fill="#2a2a2a" stroke="#2a2a2a" stroke-width="0.15" text-anchor="end" >SSP1</text>
<text x="641.20" y="122.00" font-size="10.3" font-weight="normal" fill="#1a1a1a" stroke="#1a1a1a" stroke-width="0.15" text-anchor="middle" >7%</text>
<text x="669.50" y="122.00" font-size="10.3" font-weight="normal" fill="#1a1a1a" stroke="#1a1a1a" stroke-width="0.15" text-anchor="middle" >16%</text>
<rect x="627.40" y="123.70" width="27.00" height="13.50" fill="#3e28f3" shape-rendering="crispEdges"/>
<rect x="654.40" y="123.70" width="29.60" height="13.50" fill="#d8abd6" shape-rendering="crispEdges"/>
<text x="624.70" y="135.45" font-size="10.3" font-weight="normal" fill="#2a2a2a" stroke="#2a2a2a" stroke-width="0.15" text-anchor="end" >SSP2</text>
<text x="641.20" y="135.45" font-size="10.3" font-weight="normal" fill="#1a1a1a" stroke="#1a1a1a" stroke-width="0.15" text-anchor="middle" >15%</text>
<text x="669.50" y="135.45" font-size="10.3" font-weight="normal" fill="#1a1a1a" stroke="#1a1a1a" stroke-width="0.15" text-anchor="middle" >25%</text>
<rect x="627.40" y="137.20" width="27.00" height="13.90" fill="#5087d5" shape-rendering="crispEdges"/>
<rect x="654.40" y="137.20" width="29.60" height="13.90" fill="#d3bce9" shape-rendering="crispEdges"/>
<text x="624.70" y="149.15" font-size="10.3" font-weight="normal" fill="#2a2a2a" stroke="#2a2a2a" stroke-width="0.15" text-anchor="end" >SSP3</text>
<text x="641.20" y="149.15" font-size="10.3" font-weight="normal" fill="#1a1a1a" stroke="#1a1a1a" stroke-width="0.15" text-anchor="middle" >11%</text>
<text x="669.50" y="149.15" font-size="10.3" font-weight="normal" fill="#1a1a1a" stroke="#1a1a1a" stroke-width="0.15" text-anchor="middle" >19%</text>
<rect x="627.40" y="151.10" width="27.00" height="13.10" fill="#70d0a0" shape-rendering="crispEdges"/>
<rect x="654.40" y="151.10" width="29.60" height="13.10" fill="#cecdfc" shape-rendering="crispEdges"/>
<text x="624.70" y="162.65" font-size="10.3" font-weight="normal" fill="#2a2a2a" stroke="#2a2a2a" stroke-width="0.15" text-anchor="end" >SSP4</text>
<text x="641.20" y="162.65" font-size="10.3" font-weight="normal" fill="#1a1a1a" stroke="#1a1a1a" stroke-width="0.15" text-anchor="middle" >7%</text>
<text x="669.50" y="162.65" font-size="10.3" font-weight="normal" fill="#1a1a1a" stroke="#1a1a1a" stroke-width="0.15" text-anchor="middle" >13%</text>
<rect x="627.40" y="164.20" width="27.00" height="14.10" fill="#3a10fa" shape-rendering="crispEdges"/>
<rect x="654.40" y="164.20" width="29.60" height="14.10" fill="#d9a5cf" shape-rendering="crispEdges"/>
<text x="624.70" y="176.25" font-size="10.3" font-weight="normal" fill="#2a2a2a" stroke="#2a2a2a" stroke-width="0.15" text-anchor="end" >SSP5</text>
<text x="641.20" y="176.25" font-size="10.3" font-weight="normal" fill="#1a1a1a" stroke="#1a1a1a" stroke-width="0.15" text-anchor="middle" >16%</text>
<text x="669.50" y="176.25" font-size="10.3" font-weight="normal" fill="#1a1a1a" stroke="#1a1a1a" stroke-width="0.15" text-anchor="middle" >27%</text>
<rect x="627.40" y="178.30" width="27.00" height="13.40" fill="#5087d5" shape-rendering="crispEdges"/>
<rect x="654.40" y="178.30" width="29.60" height="13.40" fill="#d4b6e2" shape-rendering="crispEdges"/>
<text x="624.70" y="190.00" font-size="10.3" font-weight="normal" fill="#2a2a2a" stroke="#2a2a2a" stroke-width="0.15" text-anchor="end" >SSP1</text>
<text x="641.20" y="190.00" font-size="10.3" font-weight="normal" fill="#1a1a1a" stroke="#1a1a1a" stroke-width="0.15" text-anchor="middle" >11%</text>
<text x="669.50" y="190.00" font-size="10.3" font-weight="normal" fill="#1a1a1a" stroke="#1a1a1a" stroke-width="0.15" text-anchor="middle" >21%</text>
<rect x="627.40" y="191.70" width="27.00" height="13.50" fill="#70d0a0" shape-rendering="crispEdges"/>
<rect x="654.40" y="191.70" width="29.60" height="13.50" fill="#d0c7f6" shape-rendering="crispEdges"/>
<text x="624.70" y="203.45" font-size="10.3" font-weight="normal" fill="#2a2a2a" stroke="#2a2a2a" stroke-width="0.15" text-anchor="end" >SSP2</text>
<text x="641.20" y="203.45" font-size="10.3" font-weight="normal" fill="#1a1a1a" stroke="#1a1a1a" stroke-width="0.15" text-anchor="middle" >7%</text>
<text x="669.50" y="203.45" font-size="10.3" font-weight="normal" fill="#1a1a1a" stroke="#1a1a1a" stroke-width="0.15" text-anchor="middle" >15%</text>
<rect x="627.40" y="205.20" width="27.00" height="13.90" fill="#3a10fa" shape-rendering="crispEdges"/>
<rect x="654.40" y="205.20" width="29.60" height="13.90" fill="#de94bc" shape-rendering="crispEdges"/>
<text x="624.70" y="217.15" font-size="10.3" font-weight="normal" fill="#2a2a2a" stroke="#2a2a2a" stroke-width="0.15" text-anchor="end" >SSP3</text>
<text x="641.20" y="217.15" font-size="10.3" font-weight="normal" fill="#1a1a1a" stroke="#1a1a1a" stroke-width="0.15" text-anchor="middle" >16%</text>
<text x="669.50" y="217.15" font-size="10.3" font-weight="normal" fill="#1a1a1a" stroke="#1a1a1a" stroke-width="0.15" text-anchor="middle" >33%</text>
<rect x="627.40" y="219.10" width="27.00" height="13.10" fill="#4a72df" shape-rendering="crispEdges"/>
<rect x="654.40" y="219.10" width="29.60" height="13.10" fill="#d8a8d2" shape-rendering="crispEdges"/>
<text x="624.70" y="230.65" font-size="10.3" font-weight="normal" fill="#2a2a2a" stroke="#2a2a2a" stroke-width="0.15" text-anchor="end" >SSP4</text>
<text x="641.20" y="230.65" font-size="10.3" font-weight="normal" fill="#1a1a1a" stroke="#1a1a1a" stroke-width="0.15" text-anchor="middle" >12%</text>
<text x="669.50" y="230.65" font-size="10.3" font-weight="normal" fill="#1a1a1a" stroke="#1a1a1a" stroke-width="0.15" text-anchor="middle" >26%</text>
<rect x="627.40" y="232.20" width="27.00" height="14.10" fill="#68bead" shape-rendering="crispEdges"/>
<rect x="654.40" y="232.20" width="29.60" height="14.10" fill="#d3bce9" shape-rendering="crispEdges"/>
<text x="624.70" y="244.25" font-size="10.3" font-weight="normal" fill="#2a2a2a" stroke="#2a2a2a" stroke-width="0.15" text-anchor="end" >SSP5</text>
<text x="641.20" y="244.25" font-size="10.3" font-weight="normal" fill="#1a1a1a" stroke="#1a1a1a" stroke-width="0.15" text-anchor="middle" >8%</text>
<text x="669.50" y="244.25" font-size="10.3" font-weight="normal" fill="#1a1a1a" stroke="#1a1a1a" stroke-width="0.15" text-anchor="middle" >19%</text>
<line x1="575.40" y1="41.50" x2="684.00" y2="41.50" stroke="#333" stroke-width="1.0" />
<line x1="596.40" y1="55.50" x2="627.40" y2="55.50" stroke="#555" stroke-width="1.0" />
<line x1="596.40" y1="68.50" x2="627.40" y2="68.50" stroke="#555" stroke-width="1.0" />
<line x1="596.40" y1="83.50" x2="627.40" y2="83.50" stroke="#555" stroke-width="1.0" />
<line x1="596.40" y1="96.50" x2="627.40" y2="96.50" stroke="#555" stroke-width="1.0" />
<line x1="575.40" y1="110.50" x2="684.00" y2="110.50" stroke="#333" stroke-width="1.0" />
<line x1="596.40" y1="123.50" x2="627.40" y2="123.50" stroke="#555" stroke-width="1.0" />
<line x1="596.40" y1="137.50" x2="627.40" y2="137.50" stroke="#555" stroke-width="1.0" />
<line x1="596.40" y1="151.50" x2="627.40" y2="151.50" stroke="#555" stroke-width="1.0" />
<line x1="596.40" y1="164.50" x2="627.40" y2="164.50" stroke="#555" stroke-width="1.0" />
<line x1="575.40" y1="178.50" x2="684.00" y2="178.50" stroke="#333" stroke-width="1.0" />
<line x1="596.40" y1="191.50" x2="627.40" y2="191.50" stroke="#555" stroke-width="1.0" />
<line x1="596.40" y1="205.50" x2="627.40" y2="205.50" stroke="#555" stroke-width="1.0" />
<line x1="596.40" y1="219.50" x2="627.40" y2="219.50" stroke="#555" stroke-width="1.0" />
<line x1="596.40" y1="232.50" x2="627.40" y2="232.50" stroke="#555" stroke-width="1.0" />
<line x1="575.40" y1="246.50" x2="684.00" y2="246.50" stroke="#333" stroke-width="1.0" />
<text x="586.00" y="79.60" font-size="10" font-weight="bold" fill="#111" stroke="#111" stroke-width="0.3" text-anchor="middle" >60</text>
<text x="586.00" y="147.75" font-size="10" font-weight="bold" fill="#111" stroke="#111" stroke-width="0.3" text-anchor="middle" >65</text>
<text x="586.00" y="215.75" font-size="10" font-weight="bold" fill="#111" stroke="#111" stroke-width="0.3" text-anchor="middle" >70</text>
<text x="641.20" y="38.60" font-size="10" font-weight="bold" fill="#111" stroke="#111" stroke-width="0.3" text-anchor="middle" >2030</text>
<text x="669.50" y="38.60" font-size="10" font-weight="bold" fill="#111" stroke="#111" stroke-width="0.3" text-anchor="middle" >2060</text>
<text x="627.50" y="258.00" font-size="10" font-weight="bold" fill="#111" stroke="#111" stroke-width="0.3" text-anchor="middle" >C2. Far region</text>
<rect x="508.60" y="303.10" width="27.00" height="14.20" fill="#3a10fa" shape-rendering="crispEdges"/>
<rect x="535.60" y="303.10" width="29.60" height="14.20" fill="#de94bc" shape-rendering="crispEdges"/>
<text x="505.90" y="315.20" font-size="10.3" font-weight="normal" fill="#2a2a2a" stroke="#2a2a2a" stroke-width="0.15" text-anchor="end" >SSP1</text>
<text x="522.40" y="315.20" font-size="10.3" font-weight="normal" fill="#1a1a1a" stroke="#1a1a1a" stroke-width="0.15" text-anchor="middle" >18%</text>
<text x="550.70" y="315.20" font-size="10.3" font-weight="normal" fill="#1a1a1a" stroke="#1a1a1a" stroke-width="0.15" text-anchor="middle" >34%</text>
<rect x="508.60" y="317.30" width="27.00" height="13.60" fill="#4552e8" shape-rendering="crispEdges"/>
<rect x="535.60" y="317.30" width="29.60" height="13.60" fill="#d6afda" shape-rendering="crispEdges"/>
<text x="505.90" y="329.10" font-size="10.3" font-weight="normal" fill="#2a2a2a" stroke="#2a2a2a" stroke-width="0.15" text-anchor="end" >SSP2</text>
<text x="522.40" y="329.10" font-size="10.3" font-weight="normal" fill="#1a1a1a" stroke="#1a1a1a" stroke-width="0.15" text-anchor="middle" >15%</text>
<text x="550.70" y="329.10" font-size="10.3" font-weight="normal" fill="#1a1a1a" stroke="#1a1a1a" stroke-width="0.15" text-anchor="middle" >25%</text>
<rect x="508.60" y="330.90" width="27.00" height="14.20" fill="#538ed0" shape-rendering="crispEdges"/>
<rect x="535.60" y="330.90" width="29.60" height="14.20" fill="#d1c4f2" shape-rendering="crispEdges"/>
<text x="505.90" y="343.00" font-size="10.3" font-weight="normal" fill="#2a2a2a" stroke="#2a2a2a" stroke-width="0.15" text-anchor="end" >SSP3</text>
<text x="522.40" y="343.00" font-size="10.3" font-weight="normal" fill="#1a1a1a" stroke="#1a1a1a" stroke-width="0.15" text-anchor="middle" >12%</text>
<text x="550.70" y="343.00" font-size="10.3" font-weight="normal" fill="#1a1a1a" stroke="#1a1a1a" stroke-width="0.15" text-anchor="middle" >18%</text>
<rect x="508.60" y="345.10" width="27.00" height="13.10" fill="#3e26f4" shape-rendering="crispEdges"/>
<rect x="535.60" y="345.10" width="29.60" height="13.10" fill="#d8a9d4" shape-rendering="crispEdges"/>
<text x="505.90" y="356.65" font-size="10.3" font-weight="normal" fill="#2a2a2a" stroke="#2a2a2a" stroke-width="0.15" text-anchor="end" >SSP4</text>
<text x="522.40" y="356.65" font-size="10.3" font-weight="normal" fill="#1a1a1a" stroke="#1a1a1a" stroke-width="0.15" text-anchor="middle" >17%</text>
<text x="550.70" y="356.65" font-size="10.3" font-weight="normal" fill="#1a1a1a" stroke="#1a1a1a" stroke-width="0.15" text-anchor="middle" >27%</text>
<rect x="508.60" y="358.20" width="27.00" height="14.10" fill="#413cee" shape-rendering="crispEdges"/>
<rect x="535.60" y="358.20" width="29.60" height="14.10" fill="#daa3cd" shape-rendering="crispEdges"/>
<text x="505.90" y="370.25" font-size="10.3" font-weight="normal" fill="#2a2a2a" stroke="#2a2a2a" stroke-width="0.15" text-anchor="end" >SSP5</text>
<text x="522.40" y="370.25" font-size="10.3" font-weight="normal" fill="#1a1a1a" stroke="#1a1a1a" stroke-width="0.15" text-anchor="middle" >16%</text>
<text x="550.70" y="370.25" font-size="10.3" font-weight="normal" fill="#1a1a1a" stroke="#1a1a1a" stroke-width="0.15" text-anchor="middle" >29%</text>
<rect x="508.60" y="372.30" width="27.00" height="13.40" fill="#5a9fc4" shape-rendering="crispEdges"/>
<rect x="535.60" y="372.30" width="29.60" height="13.40" fill="#d5b5e1" shape-rendering="crispEdges"/>
<text x="505.90" y="384.00" font-size="10.3" font-weight="normal" fill="#2a2a2a" stroke="#2a2a2a" stroke-width="0.15" text-anchor="end" >SSP1</text>
<text x="522.40" y="384.00" font-size="10.3" font-weight="normal" fill="#1a1a1a" stroke="#1a1a1a" stroke-width="0.15" text-anchor="middle" >11%</text>
<text x="550.70" y="384.00" font-size="10.3" font-weight="normal" fill="#1a1a1a" stroke="#1a1a1a" stroke-width="0.15" text-anchor="middle" >23%</text>
<rect x="508.60" y="385.70" width="27.00" height="13.50" fill="#4868e2" shape-rendering="crispEdges"/>
<rect x="535.60" y="385.70" width="29.60" height="13.50" fill="#d4b8e4" shape-rendering="crispEdges"/>
<text x="505.90" y="397.45" font-size="10.3" font-weight="normal" fill="#2a2a2a" stroke="#2a2a2a" stroke-width="0.15" text-anchor="end" >SSP2</text>
<text x="522.40" y="397.45" font-size="10.3" font-weight="normal" fill="#1a1a1a" stroke="#1a1a1a" stroke-width="0.15" text-anchor="middle" >14%</text>
<text x="550.70" y="397.45" font-size="10.3" font-weight="normal" fill="#1a1a1a" stroke="#1a1a1a" stroke-width="0.15" text-anchor="middle" >22%</text>
<rect x="508.60" y="399.20" width="27.00" height="13.90" fill="#5a9fc4" shape-rendering="crispEdges"/>
<rect x="535.60" y="399.20" width="29.60" height="13.90" fill="#cfcaf9" shape-rendering="crispEdges"/>
<text x="505.90" y="411.15" font-size="10.3" font-weight="normal" fill="#2a2a2a" stroke="#2a2a2a" stroke-width="0.15" text-anchor="end" >SSP3</text>
<text x="522.40" y="411.15" font-size="10.3" font-weight="normal" fill="#1a1a1a" stroke="#1a1a1a" stroke-width="0.15" text-anchor="middle" >11%</text>
<text x="550.70" y="411.15" font-size="10.3" font-weight="normal" fill="#1a1a1a" stroke="#1a1a1a" stroke-width="0.15" text-anchor="middle" >16%</text>
<rect x="508.60" y="413.10" width="27.00" height="13.10" fill="#62afb8" shape-rendering="crispEdges"/>
<rect x="535.60" y="413.10" width="29.60" height="13.10" fill="#d0c7f5" shape-rendering="crispEdges"/>
<text x="505.90" y="424.65" font-size="10.3" font-weight="normal" fill="#2a2a2a" stroke="#2a2a2a" stroke-width="0.15" text-anchor="end" >SSP4</text>
<text x="522.40" y="424.65" font-size="10.3" font-weight="normal" fill="#1a1a1a" stroke="#1a1a1a" stroke-width="0.15" text-anchor="middle" >10%</text>
<text x="550.70" y="424.65" font-size="10.3" font-weight="normal" fill="#1a1a1a" stroke="#1a1a1a" stroke-width="0.15" text-anchor="middle" >17%</text>
<rect x="508.60" y="426.20" width="27.00" height="14.10" fill="#4552e8" shape-rendering="crispEdges"/>
<rect x="535.60" y="426.20" width="29.60" height="14.10" fill="#d9a6d0" shape-rendering="crispEdges"/>
<text x="505.90" y="438.25" font-size="10.3" font-weight="normal" fill="#2a2a2a" stroke="#2a2a2a" stroke-width="0.15" text-anchor="end" >SSP5</text>
<text x="522.40" y="438.25" font-size="10.3" font-weight="normal" fill="#1a1a1a" stroke="#1a1a1a" stroke-width="0.15" text-anchor="middle" >15%</text>
<text x="550.70" y="438.25" font-size="10.3" font-weight="normal" fill="#1a1a1a" stroke="#1a1a1a" stroke-width="0.15" text-anchor="middle" >28%</text>
<rect x="508.60" y="440.30" width="27.00" height="13.40" fill="#62afb8" shape-rendering="crispEdges"/>
<rect x="535.60" y="440.30" width="29.60" height="13.40" fill="#d4b8e4" shape-rendering="crispEdges"/>
<text x="505.90" y="452.00" font-size="10.3" font-weight="normal" fill="#2a2a2a" stroke="#2a2a2a" stroke-width="0.15" text-anchor="end" >SSP1</text>
<text x="522.40" y="452.00" font-size="10.3" font-weight="normal" fill="#1a1a1a" stroke="#1a1a1a" stroke-width="0.15" text-anchor="middle" >10%</text>
<text x="550.70" y="452.00" font-size="10.3" font-weight="normal" fill="#1a1a1a" stroke="#1a1a1a" stroke-width="0.15" text-anchor="middle" >22%</text>
<rect x="508.60" y="453.70" width="27.00" height="13.50" fill="#70d0a0" shape-rendering="crispEdges"/>
<rect x="535.60" y="453.70" width="29.60" height="13.50" fill="#cecdfc" shape-rendering="crispEdges"/>
<text x="505.90" y="465.45" font-size="10.3" font-weight="normal" fill="#2a2a2a" stroke="#2a2a2a" stroke-width="0.15" text-anchor="end" >SSP2</text>
<text x="522.40" y="465.45" font-size="10.3" font-weight="normal" fill="#1a1a1a" stroke="#1a1a1a" stroke-width="0.15" text-anchor="middle" >8%</text>
<text x="550.70" y="465.45" font-size="10.3" font-weight="normal" fill="#1a1a1a" stroke="#1a1a1a" stroke-width="0.15" text-anchor="middle" >15%</text>
<rect x="508.60" y="467.20" width="27.00" height="13.90" fill="#538ed0" shape-rendering="crispEdges"/>
<rect x="535.60" y="467.20" width="29.60" height="13.90" fill="#d1c4f2" shape-rendering="crispEdges"/>
<text x="505.90" y="479.15" font-size="10.3" font-weight="normal" fill="#2a2a2a" stroke="#2a2a2a" stroke-width="0.15" text-anchor="end" >SSP3</text>
<text x="522.40" y="479.15" font-size="10.3" font-weight="normal" fill="#1a1a1a" stroke="#1a1a1a" stroke-width="0.15" text-anchor="middle" >12%</text>
<text x="550.70" y="479.15" font-size="10.3" font-weight="normal" fill="#1a1a1a" stroke="#1a1a1a" stroke-width="0.15" text-anchor="middle" >18%</text>
<rect x="508.60" y="481.10" width="27.00" height="13.10" fill="#62afb8" shape-rendering="crispEdges"/>
<rect x="535.60" y="481.10" width="29.60" height="13.10" fill="#d2beeb" shape-rendering="crispEdges"/>
<text x="505.90" y="492.65" font-size="10.3" font-weight="normal" fill="#2a2a2a" stroke="#2a2a2a" stroke-width="0.15" text-anchor="end" >SSP4</text>
<text x="522.40" y="492.65" font-size="10.3" font-weight="normal" fill="#1a1a1a" stroke="#1a1a1a" stroke-width="0.15" text-anchor="middle" >10%</text>
<text x="550.70" y="492.65" font-size="10.3" font-weight="normal" fill="#1a1a1a" stroke="#1a1a1a" stroke-width="0.15" text-anchor="middle" >20%</text>
<rect x="508.60" y="494.20" width="27.00" height="14.10" fill="#69c0ac" shape-rendering="crispEdges"/>
<rect x="535.60" y="494.20" width="29.60" height="14.10" fill="#d3bbe8" shape-rendering="crispEdges"/>
<text x="505.90" y="506.25" font-size="10.3" font-weight="normal" fill="#2a2a2a" stroke="#2a2a2a" stroke-width="0.15" text-anchor="end" >SSP5</text>
<text x="522.40" y="506.25" font-size="10.3" font-weight="normal" fill="#1a1a1a" stroke="#1a1a1a" stroke-width="0.15" text-anchor="middle" >9%</text>
<text x="550.70" y="506.25" font-size="10.3" font-weight="normal" fill="#1a1a1a" stroke="#1a1a1a" stroke-width="0.15" text-anchor="middle" >21%</text>
<line x1="456.60" y1="303.50" x2="565.20" y2="303.50" stroke="#333" stroke-width="1.0" />
<line x1="477.60" y1="317.50" x2="508.60" y2="317.50" stroke="#555" stroke-width="1.0" />
<line x1="477.60" y1="330.50" x2="508.60" y2="330.50" stroke="#555" stroke-width="1.0" />
<line x1="477.60" y1="345.50" x2="508.60" y2="345.50" stroke="#555" stroke-width="1.0" />
<line x1="477.60" y1="358.50" x2="508.60" y2="358.50" stroke="#555" stroke-width="1.0" />
<line x1="456.60" y1="372.50" x2="565.20" y2="372.50" stroke="#333" stroke-width="1.0" />
<line x1="477.60" y1="385.50" x2="508.60" y2="385.50" stroke="#555" stroke-width="1.0" />
<line x1="477.60" y1="399.50" x2="508.60" y2="399.50" stroke="#555" stroke-width="1.0" />
<line x1="477.60" y1="413.50" x2="508.60" y2="413.50" stroke="#555" stroke-width="1.0" />
<line x1="477.60" y1="426.50" x2="508.60" y2="426.50" stroke="#555" stroke-width="1.0" />
<line x1="456.60" y1="440.50" x2="565.20" y2="440.50" stroke="#333" stroke-width="1.0" />
<line x1="477.60" y1="453.50" x2="508.60" y2="453.50" stroke="#555" stroke-width="1.0" />
<line x1="477.60" y1="467.50" x2="508.60" y2="467.50" stroke="#555" stroke-width="1.0" />
<line x1="477.60" y1="481.50" x2="508.60" y2="481.50" stroke="#555" stroke-width="1.0" />
<line x1="477.60" y1="494.50" x2="508.60" y2="494.50" stroke="#555" stroke-width="1.0" />
<line x1="456.60" y1="508.50" x2="565.20" y2="508.50" stroke="#333" stroke-width="1.0" />
<text x="467.20" y="341.60" font-size="10" font-weight="bold" fill="#111" stroke="#111" stroke-width="0.3" text-anchor="middle" >60</text>
<text x="467.20" y="409.75" font-size="10" font-weight="bold" fill="#111" stroke="#111" stroke-width="0.3" text-anchor="middle" >65</text>
<text x="467.20" y="477.75" font-size="10" font-weight="bold" fill="#111" stroke="#111" stroke-width="0.3" text-anchor="middle" >70</text>
<text x="522.40" y="300.60" font-size="10" font-weight="bold" fill="#111" stroke="#111" stroke-width="0.3" text-anchor="middle" >2030</text>
<text x="550.70" y="300.60" font-size="10" font-weight="bold" fill="#111" stroke="#111" stroke-width="0.3" text-anchor="middle" >2060</text>
<text x="510.00" y="519.90" font-size="10" font-weight="bold" fill="#111" stroke="#111" stroke-width="0.3" text-anchor="middle" >D1. Global</text>
<rect x="627.40" y="303.10" width="27.00" height="14.20" fill="#3a10fa" shape-rendering="crispEdges"/>
<rect x="654.40" y="303.10" width="29.60" height="14.20" fill="#de94bc" shape-rendering="crispEdges"/>
<text x="624.70" y="315.20" font-size="10.3" font-weight="normal" fill="#2a2a2a" stroke="#2a2a2a" stroke-width="0.15" text-anchor="end" >SSP1</text>
<text x="641.20" y="315.20" font-size="10.3" font-weight="normal" fill="#1a1a1a" stroke="#1a1a1a" stroke-width="0.15" text-anchor="middle" >23%</text>
<text x="669.50" y="315.20" font-size="10.3" font-weight="normal" fill="#1a1a1a" stroke="#1a1a1a" stroke-width="0.15" text-anchor="middle" >28%</text>
<rect x="627.40" y="317.30" width="27.00" height="13.60" fill="#4865e3" shape-rendering="crispEdges"/>
<rect x="654.40" y="317.30" width="29.60" height="13.60" fill="#d8a9d4" shape-rendering="crispEdges"/>
<text x="624.70" y="329.10" font-size="10.3" font-weight="normal" fill="#2a2a2a" stroke="#2a2a2a" stroke-width="0.15" text-anchor="end" >SSP2</text>
<text x="641.20" y="329.10" font-size="10.3" font-weight="normal" fill="#1a1a1a" stroke="#1a1a1a" stroke-width="0.15" text-anchor="middle" >18%</text>
<text x="669.50" y="329.10" font-size="10.3" font-weight="normal" fill="#1a1a1a" stroke="#1a1a1a" stroke-width="0.15" text-anchor="middle" >22%</text>
<rect x="627.40" y="330.90" width="27.00" height="14.20" fill="#5a9ec5" shape-rendering="crispEdges"/>
<rect x="654.40" y="330.90" width="29.60" height="14.20" fill="#d2bfec" shape-rendering="crispEdges"/>
<text x="624.70" y="343.00" font-size="10.3" font-weight="normal" fill="#2a2a2a" stroke="#2a2a2a" stroke-width="0.15" text-anchor="end" >SSP3</text>
<text x="641.20" y="343.00" font-size="10.3" font-weight="normal" fill="#1a1a1a" stroke="#1a1a1a" stroke-width="0.15" text-anchor="middle" >14%</text>
<text x="669.50" y="343.00" font-size="10.3" font-weight="normal" fill="#1a1a1a" stroke="#1a1a1a" stroke-width="0.15" text-anchor="middle" >16%</text>
<rect x="627.40" y="345.10" width="27.00" height="13.10" fill="#4243ec" shape-rendering="crispEdges"/>
<rect x="654.40" y="345.10" width="29.60" height="13.10" fill="#daa2cc" shape-rendering="crispEdges"/>
<text x="624.70" y="356.65" font-size="10.3" font-weight="normal" fill="#2a2a2a" stroke="#2a2a2a" stroke-width="0.15" text-anchor="end" >SSP4</text>
<text x="641.20" y="356.65" font-size="10.3" font-weight="normal" fill="#1a1a1a" stroke="#1a1a1a" stroke-width="0.15" text-anchor="middle" >20%</text>
<text x="669.50" y="356.65" font-size="10.3" font-weight="normal" fill="#1a1a1a" stroke="#1a1a1a" stroke-width="0.15" text-anchor="middle" >24%</text>
<rect x="627.40" y="358.20" width="27.00" height="14.10" fill="#4243ec" shape-rendering="crispEdges"/>
<rect x="654.40" y="358.20" width="29.60" height="14.10" fill="#daa2cc" shape-rendering="crispEdges"/>
<text x="624.70" y="370.25" font-size="10.3" font-weight="normal" fill="#2a2a2a" stroke="#2a2a2a" stroke-width="0.15" text-anchor="end" >SSP5</text>
<text x="641.20" y="370.25" font-size="10.3" font-weight="normal" fill="#1a1a1a" stroke="#1a1a1a" stroke-width="0.15" text-anchor="middle" >20%</text>
<text x="669.50" y="370.25" font-size="10.3" font-weight="normal" fill="#1a1a1a" stroke="#1a1a1a" stroke-width="0.15" text-anchor="middle" >24%</text>
<rect x="627.40" y="372.30" width="27.00" height="13.40" fill="#5a9ec5" shape-rendering="crispEdges"/>
<rect x="654.40" y="372.30" width="29.60" height="13.40" fill="#d4b8e4" shape-rendering="crispEdges"/>
<text x="624.70" y="384.00" font-size="10.3" font-weight="normal" fill="#2a2a2a" stroke="#2a2a2a" stroke-width="0.15" text-anchor="end" >SSP1</text>
<text x="641.20" y="384.00" font-size="10.3" font-weight="normal" fill="#1a1a1a" stroke="#1a1a1a" stroke-width="0.15" text-anchor="middle" >14%</text>
<text x="669.50" y="384.00" font-size="10.3" font-weight="normal" fill="#1a1a1a" stroke="#1a1a1a" stroke-width="0.15" text-anchor="middle" >18%</text>
<rect x="627.40" y="385.70" width="27.00" height="13.50" fill="#4b76de" shape-rendering="crispEdges"/>
<rect x="654.40" y="385.70" width="29.60" height="13.50" fill="#d6b0dc" shape-rendering="crispEdges"/>
<text x="624.70" y="397.45" font-size="10.3" font-weight="normal" fill="#2a2a2a" stroke="#2a2a2a" stroke-width="0.15" text-anchor="end" >SSP2</text>
<text x="641.20" y="397.45" font-size="10.3" font-weight="normal" fill="#1a1a1a" stroke="#1a1a1a" stroke-width="0.15" text-anchor="middle" >17%</text>
<text x="669.50" y="397.45" font-size="10.3" font-weight="normal" fill="#1a1a1a" stroke="#1a1a1a" stroke-width="0.15" text-anchor="middle" >20%</text>
<rect x="627.40" y="399.20" width="27.00" height="13.90" fill="#5faabc" shape-rendering="crispEdges"/>
<rect x="654.40" y="399.20" width="29.60" height="13.90" fill="#d0c6f4" shape-rendering="crispEdges"/>
<text x="624.70" y="411.15" font-size="10.3" font-weight="normal" fill="#2a2a2a" stroke="#2a2a2a" stroke-width="0.15" text-anchor="end" >SSP3</text>
<text x="641.20" y="411.15" font-size="10.3" font-weight="normal" fill="#1a1a1a" stroke="#1a1a1a" stroke-width="0.15" text-anchor="middle" >13%</text>
<text x="669.50" y="411.15" font-size="10.3" font-weight="normal" fill="#1a1a1a" stroke="#1a1a1a" stroke-width="0.15" text-anchor="middle" >14%</text>
<rect x="627.40" y="413.10" width="27.00" height="13.10" fill="#5faabc" shape-rendering="crispEdges"/>
<rect x="654.40" y="413.10" width="29.60" height="13.10" fill="#d1c2f0" shape-rendering="crispEdges"/>
<text x="624.70" y="424.65" font-size="10.3" font-weight="normal" fill="#2a2a2a" stroke="#2a2a2a" stroke-width="0.15" text-anchor="end" >SSP4</text>
<text x="641.20" y="424.65" font-size="10.3" font-weight="normal" fill="#1a1a1a" stroke="#1a1a1a" stroke-width="0.15" text-anchor="middle" >13%</text>
<text x="669.50" y="424.65" font-size="10.3" font-weight="normal" fill="#1a1a1a" stroke="#1a1a1a" stroke-width="0.15" text-anchor="middle" >15%</text>
<rect x="627.40" y="426.20" width="27.00" height="14.10" fill="#4554e8" shape-rendering="crispEdges"/>
<rect x="654.40" y="426.20" width="29.60" height="14.10" fill="#d9a6d0" shape-rendering="crispEdges"/>
<text x="624.70" y="438.25" font-size="10.3" font-weight="normal" fill="#2a2a2a" stroke="#2a2a2a" stroke-width="0.15" text-anchor="end" >SSP5</text>
<text x="641.20" y="438.25" font-size="10.3" font-weight="normal" fill="#1a1a1a" stroke="#1a1a1a" stroke-width="0.15" text-anchor="middle" >19%</text>
<text x="669.50" y="438.25" font-size="10.3" font-weight="normal" fill="#1a1a1a" stroke="#1a1a1a" stroke-width="0.15" text-anchor="middle" >23%</text>
<rect x="627.40" y="440.30" width="27.00" height="13.40" fill="#5a9ec5" shape-rendering="crispEdges"/>
<rect x="654.40" y="440.30" width="29.60" height="13.40" fill="#d3bbe8" shape-rendering="crispEdges"/>
<text x="624.70" y="452.00" font-size="10.3" font-weight="normal" fill="#2a2a2a" stroke="#2a2a2a" stroke-width="0.15" text-anchor="end" >SSP1</text>
<text x="641.20" y="452.00" font-size="10.3" font-weight="normal" fill="#1a1a1a" stroke="#1a1a1a" stroke-width="0.15" text-anchor="middle" >14%</text>
<text x="669.50" y="452.00" font-size="10.3" font-weight="normal" fill="#1a1a1a" stroke="#1a1a1a" stroke-width="0.15" text-anchor="middle" >17%</text>
<rect x="627.40" y="453.70" width="27.00" height="13.50" fill="#70d0a0" shape-rendering="crispEdges"/>
<rect x="654.40" y="453.70" width="29.60" height="13.50" fill="#cecdfc" shape-rendering="crispEdges"/>
<text x="624.70" y="465.45" font-size="10.3" font-weight="normal" fill="#2a2a2a" stroke="#2a2a2a" stroke-width="0.15" text-anchor="end" >SSP2</text>
<text x="641.20" y="465.45" font-size="10.3" font-weight="normal" fill="#1a1a1a" stroke="#1a1a1a" stroke-width="0.15" text-anchor="middle" >10%</text>
<text x="669.50" y="465.45" font-size="10.3" font-weight="normal" fill="#1a1a1a" stroke="#1a1a1a" stroke-width="0.15" text-anchor="middle" >12%</text>
<rect x="627.40" y="467.20" width="27.00" height="13.90" fill="#5a9ec5" shape-rendering="crispEdges"/>
<rect x="654.40" y="467.20" width="29.60" height="13.90" fill="#d2bfec" shape-rendering="crispEdges"/>
<text x="624.70" y="479.15" font-size="10.3" font-weight="normal" fill="#2a2a2a" stroke="#2a2a2a" stroke-width="0.15" text-anchor="end" >SSP3</text>
<text x="641.20" y="479.15" font-size="10.3" font-weight="normal" fill="#1a1a1a" stroke="#1a1a1a" stroke-width="0.15" text-anchor="middle" >14%</text>
<text x="669.50" y="479.15" font-size="10.3" font-weight="normal" fill="#1a1a1a" stroke="#1a1a1a" stroke-width="0.15" text-anchor="middle" >16%</text>
<rect x="627.40" y="481.10" width="27.00" height="13.10" fill="#5faabc" shape-rendering="crispEdges"/>
<rect x="654.40" y="481.10" width="29.60" height="13.10" fill="#d2bfec" shape-rendering="crispEdges"/>
<text x="624.70" y="492.65" font-size="10.3" font-weight="normal" fill="#2a2a2a" stroke="#2a2a2a" stroke-width="0.15" text-anchor="end" >SSP4</text>
<text x="641.20" y="492.65" font-size="10.3" font-weight="normal" fill="#1a1a1a" stroke="#1a1a1a" stroke-width="0.15" text-anchor="middle" >13%</text>
<text x="669.50" y="492.65" font-size="10.3" font-weight="normal" fill="#1a1a1a" stroke="#1a1a1a" stroke-width="0.15" text-anchor="middle" >16%</text>
<rect x="627.40" y="494.20" width="27.00" height="14.10" fill="#65b7b2" shape-rendering="crispEdges"/>
<rect x="654.40" y="494.20" width="29.60" height="14.10" fill="#d2bfec" shape-rendering="crispEdges"/>
<text x="624.70" y="506.25" font-size="10.3" font-weight="normal" fill="#2a2a2a" stroke="#2a2a2a" stroke-width="0.15" text-anchor="end" >SSP5</text>
<text x="641.20" y="506.25" font-size="10.3" font-weight="normal" fill="#1a1a1a" stroke="#1a1a1a" stroke-width="0.15" text-anchor="middle" >12%</text>
<text x="669.50" y="506.25" font-size="10.3" font-weight="normal" fill="#1a1a1a" stroke="#1a1a1a" stroke-width="0.15" text-anchor="middle" >16%</text>
<line x1="575.40" y1="303.50" x2="684.00" y2="303.50" stroke="#333" stroke-width="1.0" />
<line x1="596.40" y1="317.50" x2="627.40" y2="317.50" stroke="#555" stroke-width="1.0" />
<line x1="596.40" y1="330.50" x2="627.40" y2="330.50" stroke="#555" stroke-width="1.0" />
<line x1="596.40" y1="345.50" x2="627.40" y2="345.50" stroke="#555" stroke-width="1.0" />
<line x1="596.40" y1="358.50" x2="627.40" y2="358.50" stroke="#555" stroke-width="1.0" />
<line x1="575.40" y1="372.50" x2="684.00" y2="372.50" stroke="#333" stroke-width="1.0" />
<line x1="596.40" y1="385.50" x2="627.40" y2="385.50" stroke="#555" stroke-width="1.0" />
<line x1="596.40" y1="399.50" x2="627.40" y2="399.50" stroke="#555" stroke-width="1.0" />
<line x1="596.40" y1="413.50" x2="627.40" y2="413.50" stroke="#555" stroke-width="1.0" />
<line x1="596.40" y1="426.50" x2="627.40" y2="426.50" stroke="#555" stroke-width="1.0" />
<line x1="575.40" y1="440.50" x2="684.00" y2="440.50" stroke="#333" stroke-width="1.0" />
<line x1="596.40" y1="453.50" x2="627.40" y2="453.50" stroke="#555" stroke-width="1.0" />
<line x1="596.40" y1="467.50" x2="627.40" y2="467.50" stroke="#555" stroke-width="1.0" />
<line x1="596.40" y1="481.50" x2="627.40" y2="481.50" stroke="#555" stroke-width="1.0" />
<line x1="596.40" y1="494.50" x2="627.40" y2="494.50" stroke="#555" stroke-width="1.0" />
<line x1="575.40" y1="508.50" x2="684.00" y2="508.50" stroke="#333" stroke-width="1.0" />
<text x="586.00" y="341.60" font-size="10" font-weight="bold" fill="#111" stroke="#111" stroke-width="0.3" text-anchor="middle" >60</text>
<text x="586.00" y="409.75" font-size="10" font-weight="bold" fill="#111" stroke="#111" stroke-width="0.3" text-anchor="middle" >65</text>
<text x="586.00" y="477.75" font-size="10" font-weight="bold" fill="#111" stroke="#111" stroke-width="0.3" text-anchor="middle" >70</text>
<text x="641.20" y="300.60" font-size="10" font-weight="bold" fill="#111" stroke="#111" stroke-width="0.3" text-anchor="middle" >2040</text>
<text x="669.50" y="300.60" font-size="10" font-weight="bold" fill="#111" stroke="#111" stroke-width="0.3" text-anchor="middle" >2050</text>
<text x="633.50" y="519.90" font-size="10" font-weight="bold" fill="#111" stroke="#111" stroke-width="0.3" text-anchor="middle" >D2. Global</text>
</svg>
</body></html>
